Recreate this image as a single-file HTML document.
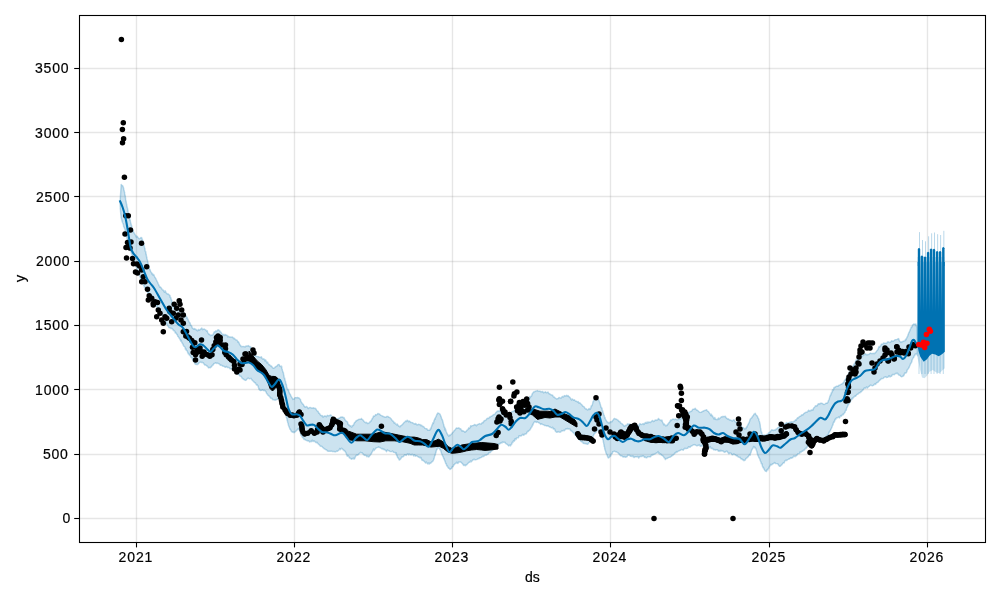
<!DOCTYPE html>
<html><head><meta charset="utf-8"><style>
html,body{margin:0;padding:0;background:#fff;width:1000px;height:600px;overflow:hidden}
svg{display:block;will-change:transform}
text{font-family:"Liberation Sans",sans-serif}
</style></head><body>
<svg width="1000" height="600" viewBox="0 0 1000 600">
<rect width="1000" height="600" fill="#fff"/>
<g stroke="#808080" stroke-opacity="0.2" stroke-width="1.39"><line x1="80" x2="985" y1="518.50" y2="518.50"/><line x1="80" x2="985" y1="454.50" y2="454.50"/><line x1="80" x2="985" y1="389.50" y2="389.50"/><line x1="80" x2="985" y1="325.50" y2="325.50"/><line x1="80" x2="985" y1="261.50" y2="261.50"/><line x1="80" x2="985" y1="196.50" y2="196.50"/><line x1="80" x2="985" y1="132.50" y2="132.50"/><line x1="80" x2="985" y1="68.50" y2="68.50"/><line x1="136.5" x2="136.5" y1="15.5" y2="542"/><line x1="294.5" x2="294.5" y1="15.5" y2="542"/><line x1="452.5" x2="452.5" y1="15.5" y2="542"/><line x1="610.5" x2="610.5" y1="15.5" y2="542"/><line x1="769.5" x2="769.5" y1="15.5" y2="542"/><line x1="927.5" x2="927.5" y1="15.5" y2="542"/></g>
<polygon points="121.2,184.4 121.5,185.1 121.9,185.1 122.3,185.6 122.8,186.1 123.3,187.3 123.8,189.3 123.9,189.5 124.0,190.4 124.2,190.7 124.3,191.4 124.4,192.1 124.6,192.0 124.7,193.9 124.9,194.6 125.0,195.4 125.1,195.3 125.3,196.2 125.4,197.5 125.6,198.6 125.7,199.9 125.9,200.6 126.1,201.8 126.2,202.2 126.4,203.4 126.5,204.1 126.7,204.4 126.9,206.3 127.0,206.6 127.2,207.7 127.4,207.7 127.5,208.5 127.7,209.5 127.9,210.4 128.0,211.6 128.2,212.3 128.4,212.8 128.6,213.4 128.8,214.4 128.9,216.0 129.1,215.9 129.3,217.2 129.5,218.0 129.7,217.9 129.8,219.3 130.0,220.6 130.2,220.0 130.5,221.7 130.7,222.7 130.9,223.3 131.2,224.8 131.4,225.4 131.6,225.6 131.9,227.4 132.1,228.1 132.3,229.0 132.6,230.0 132.8,230.2 133.0,230.7 133.3,230.7 133.5,232.2 133.8,232.2 134.3,233.4 134.8,234.0 135.3,234.9 135.8,235.7 136.3,237.1 136.9,236.1 137.5,236.8 138.3,238.0 139.1,238.7 140.0,238.4 140.9,237.5 141.7,237.8 142.5,240.2 142.7,240.2 142.9,240.5 143.2,242.1 143.4,242.8 143.6,243.1 143.8,243.9 144.0,244.8 144.2,246.2 144.4,246.6 144.5,247.4 144.7,248.3 144.9,248.2 145.1,250.4 145.3,251.2 145.5,251.9 145.7,251.6 145.9,253.1 146.1,254.6 146.2,254.2 146.4,255.7 146.6,257.1 146.8,256.9 147.0,259.0 147.2,259.4 147.4,259.9 147.6,261.0 147.8,262.0 148.0,262.6 148.1,263.9 148.3,264.0 148.5,264.9 148.7,266.3 148.9,266.6 149.1,267.0 149.3,268.5 149.6,269.4 149.8,269.2 150.0,269.4 150.4,271.0 150.9,271.8 151.4,272.5 151.9,273.9 152.4,273.4 152.9,275.0 153.5,274.4 154.0,275.2 154.5,276.5 155.0,277.5 155.4,278.1 155.8,278.5 156.1,279.2 156.5,280.0 156.8,280.9 157.2,281.4 157.6,282.4 158.0,283.3 158.3,283.9 158.7,285.0 159.1,285.6 159.6,287.0 160.0,286.8 160.6,287.2 161.2,288.0 161.8,288.8 162.5,289.9 163.1,290.0 163.8,290.9 164.4,292.2 165.1,290.7 165.7,291.9 166.2,293.0 166.7,293.5 167.6,294.0 168.3,294.0 168.8,294.7 169.4,295.0 170.0,295.6 170.2,297.4 170.5,297.2 170.7,297.5 171.0,298.5 171.2,299.3 171.4,300.3 171.7,300.0 171.9,302.0 172.2,303.5 172.4,303.4 172.7,304.7 173.0,305.8 173.3,306.4 173.8,307.5 174.4,306.7 175.1,307.9 175.7,308.4 176.4,309.2 177.0,309.8 177.7,308.4 178.3,310.5 179.1,309.7 180.0,310.8 180.8,309.9 181.6,310.8 182.5,311.6 183.3,311.6 183.7,312.3 184.2,313.1 184.6,313.4 185.0,314.0 185.5,315.5 185.9,316.0 186.3,316.2 186.8,318.3 187.2,317.4 187.6,319.0 187.9,319.2 188.3,320.1 188.7,321.2 189.1,321.8 189.5,322.8 189.8,322.6 190.2,323.4 190.5,325.1 190.9,325.0 191.3,325.7 191.7,326.0 192.3,328.0 193.0,328.4 193.8,329.2 194.5,328.6 195.3,329.5 196.0,329.3 196.7,330.3 197.6,330.8 198.4,329.4 199.3,330.2 200.1,329.6 201.0,328.9 201.8,328.1 202.6,329.7 203.5,329.1 204.3,329.0 205.2,329.7 206.0,330.2 206.6,331.2 207.2,330.7 207.7,332.5 208.3,333.5 208.8,334.4 209.4,334.3 209.9,334.6 210.5,335.7 211.3,335.3 212.0,334.9 212.8,334.9 213.6,333.4 214.3,331.8 215.0,332.1 215.8,330.8 216.6,331.4 217.3,330.6 218.0,329.8 218.8,330.0 219.3,330.7 219.9,330.9 220.5,332.1 221.1,332.3 221.7,333.6 222.5,334.4 223.2,334.9 223.9,334.3 224.7,335.4 225.5,334.6 226.3,335.3 227.1,335.3 227.8,337.0 228.5,336.2 229.5,337.0 230.4,337.0 231.3,337.1 232.1,336.9 233.0,337.6 233.6,338.7 234.3,338.3 234.9,339.0 235.6,339.8 236.2,339.9 236.9,340.0 237.5,341.0 238.0,342.3 238.5,341.8 239.1,343.0 239.6,344.5 240.1,345.1 240.6,345.5 241.1,346.5 241.6,346.7 242.0,346.5 243.0,346.6 243.9,346.5 245.0,346.9 245.7,346.2 246.5,345.9 247.4,345.9 248.3,345.6 249.1,346.4 250.0,346.5 250.5,347.6 250.9,347.0 251.4,349.0 251.8,349.3 252.3,349.6 252.7,351.7 253.2,352.1 253.6,352.0 254.1,353.4 254.5,354.6 255.0,354.8 255.8,356.0 256.7,356.4 257.5,356.6 258.3,356.6 259.2,357.3 260.0,357.3 260.7,357.6 261.4,356.8 262.1,358.5 262.9,359.1 263.6,358.8 264.3,359.2 265.0,360.9 265.6,359.8 266.3,361.4 266.9,362.9 267.6,362.1 268.2,363.5 268.8,364.7 269.4,364.4 270.0,365.3 270.7,366.1 271.4,366.0 272.1,367.0 272.7,367.7 273.3,368.2 274.0,368.0 274.7,367.7 275.4,366.8 276.1,366.5 276.7,366.3 277.4,365.4 278.0,364.6 279.1,364.5 280.1,366.3 281.0,366.5 281.3,366.9 281.6,366.1 281.9,368.4 282.2,369.2 282.5,370.8 282.7,371.2 283.0,372.0 283.2,372.9 283.4,372.6 283.6,374.7 283.8,375.1 283.9,375.4 284.1,377.2 284.3,378.2 284.5,377.6 284.8,378.8 285.0,380.1 285.2,380.8 285.4,381.3 285.6,381.8 285.8,383.9 286.0,384.2 286.2,384.0 286.4,384.7 286.7,386.9 286.9,387.4 287.2,388.5 287.4,388.9 287.7,388.9 288.0,390.1 288.4,389.8 288.8,391.3 289.2,392.5 289.6,393.7 290.1,394.0 290.6,395.1 291.0,396.2 291.5,396.9 291.9,397.8 292.3,398.2 292.7,398.5 293.0,399.4 294.1,399.1 295.0,397.6 295.7,397.6 296.5,397.7 297.4,397.5 298.2,397.7 299.0,398.0 299.5,398.5 299.9,399.0 300.4,399.3 300.8,400.9 301.2,402.0 301.6,402.5 302.0,402.9 302.5,404.0 302.9,404.1 303.4,404.4 303.9,406.0 304.4,406.1 305.0,407.3 305.7,406.9 306.5,406.4 307.4,407.3 308.3,408.6 309.1,407.8 310.0,407.4 310.8,407.7 311.7,408.1 312.6,408.0 313.4,407.7 314.2,408.4 315.0,408.3 315.5,408.4 316.1,409.2 316.6,410.3 317.1,410.7 317.5,411.5 318.0,411.3 318.5,412.4 319.0,413.3 319.6,413.5 320.2,414.8 320.8,415.1 321.4,415.8 322.2,415.6 323.0,417.1 323.7,416.6 324.5,415.9 325.4,415.9 326.3,416.8 327.3,415.3 328.2,415.7 329.1,415.7 330.0,415.3 330.8,415.0 331.5,416.0 332.3,416.5 333.1,417.3 333.8,417.6 334.6,417.8 335.3,418.6 336.0,418.8 336.7,418.8 337.7,418.7 338.6,418.3 339.5,418.3 340.4,417.1 341.2,417.0 342.0,417.3 342.7,416.9 343.4,417.8 344.0,417.6 344.6,418.9 345.3,420.2 346.0,421.0 346.5,421.2 347.0,421.8 347.5,422.0 348.0,424.3 348.6,424.5 349.1,425.5 349.7,425.3 350.2,426.1 350.8,425.8 351.3,427.1 351.8,427.0 352.4,425.4 353.0,425.6 353.5,425.3 354.1,423.4 354.6,422.6 355.2,422.1 355.7,421.6 356.2,420.6 356.7,420.7 357.6,420.1 358.4,419.6 359.2,419.2 359.9,419.4 360.7,419.2 361.4,418.4 362.0,419.3 362.7,419.7 363.4,420.4 364.0,421.5 364.7,422.0 365.5,422.7 366.2,422.3 367.0,422.9 367.8,423.6 368.7,423.2 369.2,422.8 369.7,422.4 370.2,421.4 370.8,421.4 371.3,420.4 371.9,419.4 372.4,418.3 373.0,417.8 373.5,416.0 374.0,416.3 374.8,416.0 375.6,414.6 376.4,414.9 377.2,414.4 377.9,413.5 378.7,413.9 379.5,414.0 380.2,414.8 381.0,415.4 381.7,415.7 382.5,415.9 383.3,416.6 384.2,416.8 385.0,417.2 386.0,417.0 386.9,416.5 387.8,416.4 388.7,417.1 389.4,417.4 390.0,417.7 390.7,418.7 391.4,419.2 392.0,420.2 392.7,421.0 393.3,421.2 394.0,423.0 394.7,422.4 395.3,423.7 396.0,424.0 396.6,425.0 397.3,424.0 398.0,425.2 398.6,426.0 399.3,426.3 400.0,426.9 400.7,425.6 401.4,425.5 402.1,424.7 402.8,424.1 403.5,423.2 404.1,422.4 404.7,422.2 405.6,420.9 406.4,421.5 407.1,420.2 408.0,420.8 408.6,421.8 409.3,421.1 410.1,421.6 410.8,422.6 411.6,422.5 412.5,422.6 413.3,423.4 414.1,423.8 414.9,424.0 415.8,423.5 416.6,424.7 417.5,424.8 418.4,424.3 419.2,424.6 420.0,424.5 420.8,425.7 421.7,425.2 422.4,426.4 423.2,426.4 423.9,426.8 424.6,427.9 425.3,428.6 426.2,428.6 427.0,429.0 427.8,430.3 428.5,430.2 429.3,430.1 429.7,430.3 430.1,429.7 430.5,428.3 430.9,428.9 431.3,427.1 431.6,426.6 432.0,425.0 432.5,424.4 432.9,422.8 433.3,423.5 433.6,422.6 434.0,420.7 434.4,419.7 434.7,418.8 435.1,419.2 435.5,417.5 435.9,416.8 436.3,415.9 436.6,415.2 437.0,414.1 437.3,414.0 437.7,412.9 438.0,413.3 438.6,413.2 439.2,413.6 439.7,413.9 440.2,414.5 440.7,416.1 441.3,417.1 441.5,418.6 441.8,418.9 442.1,419.2 442.3,419.9 442.6,420.6 442.8,421.4 443.1,422.5 443.4,423.7 443.7,424.7 443.9,425.7 444.2,427.2 444.5,426.8 444.8,427.9 445.0,429.9 445.3,428.5 445.7,430.1 446.2,431.5 446.6,432.5 447.0,433.5 447.4,434.1 447.9,435.1 448.3,435.5 448.8,436.2 449.3,435.1 449.8,435.5 450.3,435.5 450.9,434.5 451.4,433.9 452.0,433.8 452.6,432.4 453.1,432.2 453.7,431.5 454.2,430.6 454.7,430.2 455.6,429.2 456.3,428.0 457.0,428.2 457.8,428.2 458.7,427.8 459.3,428.2 459.9,428.9 460.6,428.7 461.3,430.0 462.0,431.1 462.8,430.6 463.5,431.3 464.3,431.4 465.0,432.2 465.6,431.4 466.2,431.4 466.9,430.2 467.5,429.9 468.1,429.2 468.8,427.8 469.4,428.5 470.1,427.6 470.7,425.8 471.4,426.4 472.0,425.6 472.9,425.6 473.8,425.3 474.6,424.4 475.5,424.9 476.4,425.7 477.2,424.7 478.1,424.3 479.0,423.9 479.7,423.6 480.4,423.9 481.1,424.1 481.8,423.1 482.5,422.5 483.2,422.8 483.9,421.1 484.6,420.5 485.3,420.5 486.0,420.0 486.7,418.9 487.4,418.3 488.1,418.5 488.9,418.1 489.6,416.9 490.3,417.0 491.0,416.3 491.7,416.3 492.3,415.6 493.0,415.2 493.7,414.5 494.4,414.5 495.1,414.0 495.8,412.5 496.4,412.4 497.1,411.1 497.7,411.0 498.2,411.0 498.8,411.2 499.5,410.5 500.2,411.2 500.8,412.0 501.4,412.1 502.0,413.5 502.7,413.7 503.5,414.4 504.4,413.9 505.3,413.5 506.2,414.3 507.1,414.3 508.0,413.8 508.8,414.2 509.5,413.4 510.3,412.9 511.0,412.9 511.8,411.6 512.5,411.5 513.3,411.3 514.0,411.2 514.6,410.1 515.3,409.7 516.0,408.7 516.7,408.5 517.4,408.5 518.0,406.9 518.7,407.8 519.5,406.0 520.2,406.1 521.0,405.9 521.7,406.2 522.5,404.9 523.2,404.2 524.0,405.0 524.5,404.6 525.1,404.0 525.6,404.4 526.2,402.7 526.7,402.1 527.3,401.7 527.8,400.8 528.3,400.7 528.8,398.8 529.3,398.5 529.8,396.5 530.3,397.7 530.7,396.4 531.2,396.2 531.6,396.1 532.0,394.4 532.4,393.6 532.9,393.0 533.3,392.3 534.1,391.7 534.8,391.7 535.6,391.1 536.4,390.9 537.3,390.6 538.1,391.1 539.0,391.1 539.9,391.1 540.9,391.8 541.8,391.7 542.7,391.5 543.6,392.8 544.5,392.4 545.4,391.8 546.3,392.8 547.2,392.6 548.0,392.0 548.9,393.8 549.7,393.7 550.4,394.5 551.2,394.8 552.0,395.2 552.6,395.1 553.3,396.8 554.0,397.0 554.7,397.4 555.3,398.2 556.0,398.5 556.7,399.0 557.5,398.6 558.2,398.6 559.0,397.4 559.7,397.8 560.5,397.9 561.3,397.9 562.0,396.8 562.8,396.5 563.6,396.9 564.4,395.6 565.1,395.8 565.9,396.0 566.7,395.3 567.4,396.1 568.1,395.6 568.8,396.6 569.5,397.1 570.2,397.8 570.8,398.9 571.4,400.0 572.0,399.0 572.9,399.5 573.6,400.3 574.4,399.8 575.3,400.9 576.0,401.3 576.7,401.3 577.4,402.1 578.2,401.6 579.0,403.2 579.8,402.7 580.7,403.7 581.3,404.2 582.0,404.9 582.7,406.1 583.4,406.4 584.1,406.8 584.8,407.9 585.5,408.9 586.1,408.7 586.7,409.2 587.3,409.9 588.3,409.5 589.1,408.4 589.9,409.5 590.6,408.6 591.3,405.8 591.6,406.1 592.0,405.6 592.2,405.0 592.5,404.0 592.8,402.7 593.1,401.5 593.3,401.2 593.7,401.0 594.0,399.5 594.7,398.8 595.5,398.8 596.3,397.6 597.2,398.5 598.0,399.1 598.3,399.9 598.6,399.9 598.9,400.5 599.3,401.4 599.6,402.4 599.9,402.9 600.2,404.1 600.5,405.3 600.8,406.4 601.1,407.6 601.4,407.3 601.7,408.3 602.0,408.2 602.3,411.0 602.6,410.6 602.9,411.8 603.1,412.9 603.4,412.9 603.6,414.6 603.9,415.2 604.2,415.2 604.4,416.9 604.7,418.0 605.0,417.3 605.3,419.1 605.8,419.7 606.3,420.7 606.9,421.4 607.4,422.4 608.0,422.2 608.6,423.0 609.3,422.5 609.9,422.9 610.5,421.8 611.2,421.6 611.9,421.8 612.6,420.6 613.3,419.7 614.0,418.7 614.6,418.5 615.3,418.8 616.0,419.2 616.7,419.3 617.4,419.9 618.1,420.2 618.8,421.5 619.5,421.4 620.1,421.9 620.7,423.1 621.4,423.4 622.1,423.9 622.8,424.5 623.4,425.2 624.0,426.0 624.7,426.2 625.4,425.3 626.1,425.6 626.8,424.9 627.6,423.8 628.7,424.3 629.3,423.9 630.0,424.0 630.8,424.6 631.6,425.0 632.5,424.3 633.3,425.1 634.2,424.7 635.0,426.2 635.9,425.1 636.7,425.8 637.5,424.9 638.3,425.5 639.1,425.9 639.9,423.6 640.7,424.3 641.5,424.5 642.3,424.0 643.1,423.5 643.9,424.5 644.7,423.3 645.5,422.4 646.3,423.3 647.1,421.9 647.9,423.0 648.7,422.0 649.6,422.2 650.4,422.5 651.1,421.7 651.9,420.9 652.7,420.5 653.5,421.6 654.4,421.1 655.2,420.0 656.1,420.4 656.9,420.0 657.7,419.8 658.5,418.4 659.2,419.2 660.0,419.9 660.7,420.2 661.3,420.8 661.9,420.0 662.5,422.0 663.1,423.0 663.7,424.7 664.2,423.9 664.8,424.8 665.4,425.4 666.0,425.9 666.6,425.2 667.2,425.5 667.8,424.0 668.4,423.8 669.0,422.6 669.6,422.1 670.2,420.9 670.8,419.8 671.4,420.4 672.0,419.6 672.9,419.0 673.7,419.2 674.6,419.7 675.4,419.0 676.3,419.5 677.1,419.8 678.0,419.7 678.8,419.1 679.5,418.0 680.2,419.2 681.0,418.4 681.8,417.9 682.5,417.3 683.2,417.1 684.0,416.3 684.7,415.6 685.4,415.2 686.1,414.8 686.7,414.2 687.4,413.5 688.1,413.7 688.8,412.3 689.4,412.7 690.0,411.5 690.8,411.5 691.6,411.3 692.2,410.1 692.9,409.2 693.7,409.2 694.5,409.1 695.2,408.3 695.9,409.2 696.6,410.0 697.4,410.2 698.2,411.0 699.0,411.8 699.7,412.1 700.5,412.4 701.4,412.2 702.2,411.6 703.1,411.3 703.9,410.7 704.8,410.4 705.6,410.3 706.5,409.7 707.1,410.7 707.7,411.3 708.3,411.4 709.0,412.5 709.6,413.5 710.2,413.9 710.8,415.6 711.4,414.2 712.0,415.9 712.5,415.7 713.3,417.7 714.1,419.1 714.8,417.4 715.4,419.1 716.2,419.6 717.0,419.4 717.7,419.6 718.4,418.0 719.1,418.9 719.9,418.2 720.7,417.5 721.5,416.7 722.2,416.9 723.0,416.3 723.8,416.7 724.5,416.6 725.2,416.2 726.0,417.7 726.8,418.3 727.5,419.1 728.2,418.8 729.0,419.5 729.9,420.0 730.7,420.0 731.6,420.6 732.4,421.1 733.3,420.0 734.1,419.8 735.0,421.4 735.7,422.1 736.4,422.2 737.1,422.7 737.7,422.6 738.4,423.1 739.1,424.4 739.8,424.1 740.4,424.2 741.0,425.1 741.8,427.4 742.6,428.0 743.2,427.6 743.9,428.2 744.7,428.9 745.5,428.2 745.9,428.8 746.2,427.7 746.6,426.7 747.1,427.1 747.5,425.5 747.9,425.0 748.3,424.1 748.8,423.1 749.2,422.5 749.6,421.2 750.0,419.8 750.4,418.9 750.8,418.6 751.2,418.2 751.5,418.0 752.2,416.9 752.9,416.1 753.5,415.1 754.0,414.2 754.6,413.9 755.2,413.2 755.7,414.3 756.2,415.0 756.7,415.6 757.1,416.0 757.6,416.8 758.1,418.2 758.6,418.8 759.0,420.3 759.2,420.9 759.4,421.4 759.6,422.7 759.7,422.6 759.9,423.6 760.1,424.3 760.2,425.2 760.4,427.2 760.5,428.3 760.7,428.4 760.9,429.6 761.0,430.7 761.2,431.3 761.4,432.3 761.6,431.8 761.8,432.7 762.0,433.7 762.8,435.3 763.7,435.3 764.6,435.0 765.6,435.1 766.5,434.7 767.1,434.3 767.8,434.7 768.4,433.1 769.0,432.5 769.7,432.7 770.3,431.6 771.0,430.7 771.8,429.8 772.7,430.1 773.6,430.5 774.4,429.9 775.3,430.0 776.2,429.0 776.9,428.8 777.5,427.9 778.1,427.6 778.8,427.3 779.5,425.5 780.1,425.5 780.8,425.0 781.5,424.2 782.3,424.0 783.2,424.2 784.0,424.5 784.9,423.8 785.8,423.5 786.6,422.5 787.5,423.9 788.4,422.8 789.2,422.6 790.1,422.0 790.9,422.3 791.8,421.7 792.6,421.9 793.5,421.7 794.2,421.1 794.8,420.8 795.5,419.8 796.2,420.3 796.8,418.9 797.5,417.8 798.2,418.0 798.8,417.2 799.5,416.5 800.2,416.3 800.8,416.1 801.5,414.9 802.2,414.8 802.8,415.0 803.5,414.1 804.2,413.3 804.8,413.0 805.5,412.4 806.3,412.1 807.0,412.1 807.8,411.5 808.6,410.2 809.4,411.1 810.1,410.4 810.8,410.8 811.5,409.9 812.2,409.8 812.9,410.2 813.5,408.2 814.2,407.6 814.8,406.9 815.4,405.9 816.0,405.7 816.8,406.1 817.5,405.0 818.2,403.9 819.0,403.6 819.8,404.1 820.5,403.2 821.4,403.2 822.4,403.5 823.3,404.1 824.2,404.5 825.0,404.0 825.9,403.3 826.6,403.1 827.3,403.2 828.0,402.1 828.3,400.8 828.6,400.5 828.9,399.7 829.2,398.8 829.5,397.8 829.8,396.6 830.1,396.1 830.4,394.8 830.7,395.3 831.0,394.2 831.4,392.6 831.8,392.9 832.1,391.9 832.5,389.8 832.9,390.7 833.2,389.5 833.6,389.5 834.0,387.4 834.8,387.4 835.5,386.8 836.2,386.4 837.0,386.1 838.0,386.3 839.0,385.1 840.0,384.9 840.8,384.4 841.6,384.2 842.3,383.4 843.0,383.2 843.5,382.5 843.9,381.8 844.4,380.7 845.0,379.8 845.3,379.9 845.7,379.2 846.1,378.2 846.5,377.3 846.9,377.4 847.3,375.7 847.7,375.5 848.2,375.0 848.6,373.6 849.0,373.4 849.4,371.8 849.8,372.0 850.2,371.0 850.6,369.4 851.0,369.7 851.4,368.3 851.8,368.6 852.2,367.0 852.6,366.6 853.0,366.1 853.4,365.1 853.9,364.7 854.3,363.6 854.7,363.5 855.1,362.5 855.5,362.0 856.0,360.0 856.5,361.1 857.0,360.0 857.6,358.6 858.2,358.8 858.9,358.3 859.6,358.0 860.3,356.4 861.0,357.0 861.7,355.8 862.4,356.5 863.0,354.9 863.9,354.9 864.7,354.2 865.4,353.7 866.2,354.7 867.1,354.5 868.0,354.7 868.8,354.3 869.7,353.6 870.6,353.1 871.5,353.6 872.4,353.5 873.3,353.3 874.2,353.7 875.0,353.1 875.6,352.4 876.1,352.0 876.6,351.1 877.1,350.5 877.6,350.0 878.1,349.2 878.6,347.7 879.0,346.6 879.5,347.2 880.0,346.1 880.7,345.8 881.4,344.1 882.1,344.2 882.9,343.9 883.6,342.9 884.3,343.1 885.0,343.3 885.8,343.2 886.7,343.3 887.5,342.0 888.3,341.7 889.2,342.4 890.0,342.4 890.9,341.8 891.7,340.8 892.6,341.4 893.5,341.0 894.3,340.5 895.0,339.8 896.1,339.6 897.1,339.4 898.0,338.7 898.6,338.6 899.2,340.3 899.7,341.2 900.3,341.7 901.0,342.4 901.8,341.7 902.6,341.7 903.4,341.1 904.2,340.9 905.0,340.7 905.5,339.3 906.0,339.7 906.4,338.8 906.8,337.7 907.2,336.8 907.6,336.5 908.0,334.9 908.4,334.1 908.7,332.9 909.0,332.7 909.3,332.3 909.6,331.1 910.0,330.2 910.4,329.2 910.8,328.5 911.3,327.0 911.7,327.3 912.2,326.0 912.6,325.0 913.0,324.7 913.8,323.9 914.6,324.3 915.3,324.5 915.8,323.9 916.3,325.9 916.7,326.8 917.0,327.0 917.5,355.7 917.3,354.5 917.1,353.8 916.5,353.5 916.1,354.2 915.7,354.3 915.2,354.1 914.7,355.8 914.2,355.8 913.6,357.9 913.0,358.0 912.7,358.8 912.4,359.3 912.1,360.2 911.8,361.8 911.5,362.3 911.1,363.0 910.8,363.7 910.5,363.7 910.1,365.0 909.8,365.8 909.4,366.4 909.0,367.9 908.7,368.0 908.3,368.7 907.8,369.3 907.3,369.7 906.8,371.7 906.3,372.8 905.7,373.0 905.2,373.2 904.7,373.1 904.1,374.9 903.6,375.9 903.0,375.9 902.5,376.4 901.7,376.8 900.8,376.4 900.0,375.2 899.2,375.3 898.4,374.6 897.5,373.2 896.7,373.5 895.9,373.2 895.0,374.0 894.2,374.7 893.3,374.4 892.5,374.4 891.6,376.3 890.8,376.2 890.0,376.9 889.1,375.7 888.3,376.9 887.4,377.4 886.6,377.5 885.8,376.7 885.0,377.1 884.2,377.2 883.5,378.1 882.8,378.6 882.1,378.6 881.4,378.4 880.7,379.8 880.0,379.8 879.4,380.7 878.8,381.1 878.1,382.2 877.5,382.6 876.9,382.4 876.2,383.3 875.6,384.4 875.0,383.8 874.2,384.6 873.3,385.4 872.5,385.7 871.7,385.6 870.8,385.1 870.0,385.4 869.1,386.4 868.3,386.8 867.4,388.1 866.5,386.9 865.7,388.1 865.0,388.3 864.3,387.8 863.7,388.8 863.2,389.8 862.6,390.2 862.0,390.9 861.4,391.7 860.7,391.7 860.0,392.8 859.3,392.8 858.6,393.3 858.0,394.2 857.2,394.3 856.4,395.1 855.7,396.2 855.0,396.0 854.4,396.4 853.8,397.3 853.3,397.4 852.7,398.7 852.0,398.4 851.6,399.8 851.2,399.9 850.7,400.4 850.2,402.2 849.8,401.7 849.3,403.6 848.8,403.8 848.4,404.9 848.0,404.6 847.6,406.3 847.3,407.2 846.9,407.4 846.6,408.2 846.3,410.2 846.0,410.0 845.6,410.5 845.3,411.1 845.0,412.2 844.4,413.0 843.8,413.6 843.3,414.8 842.7,414.3 842.0,415.2 841.4,416.2 840.7,415.6 840.0,417.0 839.3,417.9 838.6,416.9 838.0,417.5 837.2,418.0 836.4,417.9 835.7,419.4 835.0,419.2 834.7,420.8 834.3,421.9 834.0,421.3 833.7,422.7 833.3,422.8 833.0,424.9 832.7,425.1 832.3,426.1 832.0,427.0 831.6,428.0 831.3,428.4 830.9,429.4 830.6,429.9 830.2,430.9 829.8,431.1 829.4,432.3 829.0,432.1 828.6,433.5 828.1,435.3 827.7,435.1 827.2,435.2 826.7,436.5 826.2,436.6 825.6,436.8 825.0,437.7 824.2,438.7 823.4,438.9 822.6,438.8 821.7,438.6 820.8,438.7 819.9,439.9 819.0,439.6 818.1,439.3 817.2,438.9 816.3,439.4 815.5,441.3 814.6,439.8 813.8,440.6 813.0,441.1 812.3,441.4 811.6,441.9 811.0,442.1 810.3,442.9 809.7,444.9 809.1,444.5 808.5,445.9 807.9,445.4 807.3,446.7 806.7,447.5 806.0,448.5 805.4,448.2 804.7,449.6 804.0,450.2 803.4,450.2 802.8,451.2 802.1,451.2 801.4,451.7 800.7,452.6 800.1,451.9 799.4,453.6 798.7,453.6 798.0,453.8 797.2,454.8 796.5,455.7 795.8,455.6 795.0,456.7 794.2,455.9 793.5,456.2 792.8,457.8 792.0,457.7 791.2,458.3 790.5,457.8 789.8,458.9 789.0,458.9 788.2,459.4 787.5,459.6 786.8,460.5 786.0,460.2 785.4,460.6 784.8,461.0 784.1,462.9 783.5,462.8 782.8,463.4 782.2,464.2 781.6,465.1 781.0,465.3 780.5,466.1 780.0,466.2 779.3,466.2 778.7,465.3 778.3,464.8 777.7,463.7 777.0,463.6 776.3,463.6 775.5,463.6 774.6,462.6 773.6,463.6 772.7,463.8 771.8,464.9 771.0,464.3 770.4,465.2 769.9,466.1 769.3,466.8 768.8,468.3 768.3,468.5 767.8,469.9 767.4,469.5 766.9,469.9 766.5,471.5 765.8,471.3 765.3,471.0 764.7,470.2 764.2,469.4 763.5,467.5 763.2,467.9 762.9,466.7 762.6,466.7 762.3,465.6 762.0,463.9 761.7,463.4 761.3,463.7 761.0,462.3 760.7,461.4 760.3,460.8 760.0,459.7 759.7,458.8 759.3,458.3 759.0,457.6 758.7,457.4 758.4,455.9 758.0,455.8 757.7,454.8 757.4,453.8 757.1,452.6 756.8,451.2 756.4,450.3 756.1,449.4 755.8,448.4 755.5,448.1 755.1,447.3 754.8,447.9 754.5,447.2 754.1,446.8 753.6,446.4 753.2,447.8 752.8,448.4 752.3,449.0 751.9,449.9 751.5,450.4 751.0,452.6 750.5,453.2 750.0,455.2 749.5,454.7 748.9,455.4 748.3,456.8 747.7,457.0 747.1,457.8 746.5,458.2 745.8,458.7 745.2,460.1 744.6,460.3 744.0,460.8 743.2,459.8 742.5,459.7 741.8,458.8 741.0,459.0 740.2,457.3 739.5,457.5 738.8,457.2 738.0,456.8 737.1,455.4 736.3,455.9 735.4,454.8 734.6,454.5 733.7,454.0 732.9,454.8 732.0,454.7 731.2,453.4 730.5,453.1 729.8,452.9 729.0,453.9 728.2,452.9 727.5,451.9 726.8,451.1 726.0,451.4 725.1,452.1 724.3,452.2 723.4,451.2 722.6,451.0 721.7,451.0 720.9,450.3 720.0,451.4 719.1,450.4 718.3,451.2 717.4,449.7 716.6,449.7 715.7,450.2 714.9,449.5 714.0,449.9 713.2,449.2 712.5,448.3 711.8,448.6 711.0,448.3 710.2,446.6 709.5,447.9 708.8,447.0 708.0,446.8 707.1,445.5 706.3,446.0 705.4,446.2 704.6,446.9 703.7,445.9 702.9,446.2 702.0,445.6 701.1,446.2 700.3,446.2 699.4,445.0 698.6,445.2 697.7,445.5 696.9,445.8 696.0,445.3 695.1,444.9 694.3,444.6 693.4,444.9 692.6,445.3 691.7,445.9 690.9,446.2 690.0,447.3 689.2,446.9 688.5,446.7 687.8,448.3 687.0,448.4 686.2,448.5 685.5,448.5 684.8,448.3 684.0,449.0 683.1,450.2 682.3,449.6 681.4,449.5 680.6,450.3 679.7,450.5 678.9,450.9 678.0,451.3 677.3,452.0 676.7,451.4 676.0,452.8 675.3,452.4 674.7,453.8 674.0,454.1 673.3,454.7 672.7,455.5 672.0,455.5 671.3,456.5 670.5,457.0 669.8,457.2 669.1,457.4 668.4,457.7 667.6,458.2 666.8,458.5 666.0,458.5 665.4,459.6 664.8,458.2 664.1,457.8 663.5,456.5 662.8,455.9 662.1,455.4 661.4,455.0 660.7,453.8 660.0,454.4 659.4,452.9 658.7,453.4 658.0,451.6 657.3,452.7 656.5,453.0 655.8,453.3 655.1,453.9 654.4,454.2 653.6,454.7 652.9,454.3 652.2,455.3 651.5,455.0 650.7,456.7 650.0,456.8 649.2,456.8 648.4,456.6 647.6,456.7 646.8,457.8 646.0,457.7 645.2,456.9 644.4,457.4 643.6,456.0 642.8,455.8 642.0,456.5 641.2,456.3 640.4,456.5 639.5,456.8 638.7,458.1 637.8,456.4 637.0,456.8 636.2,456.9 635.4,456.7 634.7,457.1 634.0,457.5 633.0,456.0 632.0,456.5 631.2,456.1 630.4,456.3 629.6,455.3 628.7,455.2 627.8,455.1 627.0,456.8 626.1,457.0 625.2,457.3 624.3,456.4 623.3,457.1 622.7,456.7 622.0,455.9 621.3,455.6 620.6,455.7 619.9,455.0 619.2,454.0 618.5,453.6 617.9,452.6 617.3,452.4 616.7,452.0 615.7,451.8 614.9,451.3 614.2,451.3 613.5,451.5 612.7,451.7 612.2,453.5 611.7,453.5 611.2,454.3 610.7,456.1 610.2,456.6 609.7,456.0 609.2,457.5 608.7,457.7 608.3,458.0 607.9,457.3 607.5,456.5 607.1,454.9 606.7,454.3 606.4,453.9 606.0,453.0 605.6,451.3 605.3,450.5 605.1,449.9 604.9,449.4 604.7,448.7 604.6,447.7 604.4,446.4 604.2,446.7 604.1,445.9 603.9,444.3 603.8,443.9 603.6,442.8 603.4,442.1 603.3,441.1 603.1,439.8 602.9,439.7 602.7,439.2 602.4,437.3 602.1,437.6 601.8,436.7 601.4,435.6 601.1,434.8 600.7,433.4 600.4,432.1 600.0,431.4 599.7,430.7 599.3,430.8 598.5,430.2 597.7,430.5 596.9,429.6 596.1,432.2 595.3,433.0 594.9,432.5 594.6,433.4 594.2,434.0 593.8,434.7 593.5,435.3 593.1,436.2 592.8,436.7 592.4,438.0 592.0,438.7 591.7,439.5 591.3,439.6 590.7,440.8 590.2,441.6 589.6,442.5 589.0,442.4 588.4,443.5 587.9,444.2 587.3,444.3 586.5,443.9 585.7,443.7 584.9,443.5 584.1,443.5 583.3,443.4 582.7,442.3 582.1,441.7 581.4,441.7 580.8,441.2 580.1,440.2 579.4,439.6 578.7,439.3 578.2,439.1 577.7,437.6 577.1,437.0 576.6,437.0 576.0,435.5 575.5,435.4 574.9,434.7 574.4,433.9 573.8,432.8 573.3,432.7 572.6,431.9 572.0,431.5 571.3,430.4 570.6,430.7 570.0,428.9 569.3,429.1 568.7,428.9 568.0,429.1 567.2,428.4 566.5,429.1 565.7,428.9 565.0,429.9 564.2,430.8 563.5,430.2 562.7,430.9 561.8,430.6 560.9,431.8 560.0,432.3 559.1,432.1 558.2,431.6 557.3,432.2 556.6,432.2 556.0,431.7 555.3,430.9 554.6,429.0 554.0,428.8 553.3,429.0 552.7,427.2 552.0,427.8 551.1,427.7 550.3,427.0 549.4,427.0 548.6,426.3 547.7,425.7 546.7,426.0 546.0,425.7 545.3,425.4 544.5,425.5 543.7,424.8 543.0,424.6 542.2,424.3 541.4,423.8 540.7,424.4 540.0,423.5 539.0,422.9 538.1,422.4 537.2,421.8 536.3,422.4 535.5,421.8 534.7,421.5 534.2,422.1 533.8,422.9 533.3,423.5 532.9,425.0 532.5,424.9 532.1,426.5 531.7,427.2 531.2,427.4 530.7,428.7 530.2,429.3 529.6,430.3 529.0,430.5 528.4,431.5 527.8,431.2 527.2,432.0 526.5,433.4 525.9,434.0 525.3,434.0 524.5,434.2 523.7,435.3 522.9,434.2 522.1,435.0 521.3,435.9 520.5,436.1 519.8,435.7 519.1,435.8 518.5,437.7 517.8,437.6 517.2,437.6 516.6,438.5 515.9,439.5 515.2,438.5 514.7,440.7 514.1,441.2 513.5,440.6 512.9,442.6 512.3,442.2 511.7,444.3 511.1,444.6 510.5,445.9 509.9,445.0 509.3,445.5 508.6,445.9 507.8,444.9 507.1,444.3 506.3,443.8 505.6,443.3 504.9,442.2 504.2,442.4 503.5,442.2 502.7,442.0 501.9,443.0 501.2,442.4 500.4,443.6 499.6,443.4 498.8,444.6 498.3,443.9 497.7,445.4 497.2,445.8 496.6,446.2 496.0,446.8 495.5,447.6 494.9,448.1 494.3,448.1 493.6,449.4 493.0,450.0 492.3,450.5 491.7,450.7 491.0,451.6 490.3,452.5 489.6,452.5 488.9,452.9 488.1,454.2 487.4,454.4 486.7,454.8 486.0,455.3 485.2,455.1 484.4,455.6 483.7,456.6 482.9,456.2 482.1,456.8 481.3,457.4 480.6,457.8 479.8,457.8 479.0,458.7 478.2,458.5 477.4,459.2 476.7,459.6 475.9,459.6 475.1,459.9 474.3,459.3 473.6,459.4 472.8,460.1 472.0,460.9 471.3,461.8 470.5,461.0 469.8,462.3 469.0,462.3 468.3,463.0 467.6,463.7 466.9,464.7 466.2,464.9 465.6,465.7 465.0,464.9 464.1,465.6 463.4,465.1 462.7,463.9 462.1,463.4 461.3,462.4 460.5,462.0 459.7,462.1 458.8,461.9 457.8,463.5 456.9,462.1 456.0,463.4 455.5,463.2 454.9,463.8 454.4,464.7 453.8,464.8 453.3,466.3 452.7,466.9 452.2,466.7 451.7,468.3 451.2,468.7 450.7,468.9 450.0,469.5 449.3,468.3 448.6,468.2 448.0,467.6 447.4,465.9 446.7,465.8 446.4,464.1 446.0,463.5 445.7,463.6 445.4,462.1 445.1,461.7 444.7,460.2 444.4,460.1 444.1,458.7 443.7,458.5 443.4,456.9 443.1,457.0 442.7,455.9 442.3,455.2 441.9,454.2 441.5,453.2 441.0,451.6 440.6,450.0 440.2,450.2 439.7,449.0 439.3,448.5 438.9,448.4 438.4,447.1 438.0,447.7 437.7,447.9 437.4,448.1 437.1,449.3 436.8,449.7 436.5,450.2 436.2,451.0 435.9,452.7 435.6,453.0 435.3,454.5 435.1,455.4 434.8,455.3 434.5,456.6 434.2,458.0 433.9,458.9 433.6,459.8 433.3,460.4 432.6,461.5 432.0,461.7 431.3,462.4 430.7,463.3 430.0,463.1 429.4,464.0 428.7,463.0 427.9,464.0 427.2,463.3 426.4,462.1 425.6,462.9 424.8,462.0 424.0,461.3 423.4,460.4 422.8,460.2 422.1,460.5 421.5,458.9 420.8,457.2 420.1,457.9 419.4,457.2 418.7,457.2 417.9,456.7 417.1,456.1 416.3,455.7 415.5,456.2 414.6,454.7 413.8,456.0 412.9,454.6 412.0,454.2 411.2,455.0 410.4,454.8 409.5,454.1 408.7,454.9 407.8,453.8 407.0,454.3 406.2,455.4 405.4,455.0 404.7,454.7 403.9,455.9 403.2,456.7 402.5,457.0 401.8,456.9 401.1,458.3 400.5,459.2 399.9,459.6 399.3,460.1 398.8,458.9 398.3,458.2 397.9,457.7 397.5,457.4 397.1,455.4 396.7,455.5 396.2,452.8 395.8,453.6 395.3,452.4 394.5,452.4 393.6,452.2 392.7,451.1 391.8,451.5 390.9,451.6 390.0,451.6 389.1,450.7 388.2,450.5 387.4,449.9 386.5,451.7 385.6,450.2 384.7,449.9 383.9,449.0 383.2,449.6 382.4,448.4 381.6,448.8 380.8,448.1 380.1,447.4 379.3,447.6 378.5,446.9 377.8,447.4 377.0,447.6 376.3,447.7 375.5,448.8 374.8,449.3 374.0,450.6 373.5,449.0 372.9,450.9 372.4,451.6 371.8,452.6 371.3,453.8 370.7,454.6 370.2,455.2 369.7,455.6 369.2,456.6 368.7,456.9 367.8,456.1 367.0,456.7 366.2,455.7 365.5,455.3 364.7,455.4 363.9,454.8 363.1,454.1 362.3,453.0 361.5,452.8 360.7,452.3 359.9,453.0 359.1,453.6 358.3,454.7 357.5,455.2 356.7,454.9 356.1,455.7 355.6,456.2 355.1,457.5 354.5,459.0 353.9,459.0 353.3,458.1 352.7,458.7 352.1,458.6 351.4,459.2 350.8,458.5 350.1,458.1 349.4,458.1 348.7,456.3 348.0,455.6 347.3,456.2 346.8,454.9 346.2,453.6 345.7,452.3 345.2,451.7 344.6,450.5 344.1,450.8 343.6,450.1 343.1,449.9 342.5,448.9 342.0,448.4 341.3,448.3 340.5,449.7 339.8,448.5 339.1,450.0 338.3,450.5 337.5,451.3 336.7,451.1 335.9,451.7 335.1,451.9 334.2,451.5 333.3,451.4 332.4,451.5 331.6,451.1 330.8,451.3 330.0,451.2 329.1,451.2 328.2,451.3 327.3,450.9 326.5,449.7 325.8,449.7 325.0,449.1 324.3,448.9 323.6,448.1 322.9,447.7 322.3,446.8 321.7,446.2 321.0,446.4 320.3,446.1 319.7,445.3 319.0,444.6 318.3,444.0 317.7,443.2 317.0,442.2 316.2,442.8 315.4,442.1 314.7,441.4 313.9,440.8 313.0,441.6 312.2,440.1 311.4,441.7 310.5,441.3 309.6,442.1 308.8,440.8 308.0,441.0 307.1,440.5 306.3,440.5 305.5,439.9 304.7,439.2 304.0,439.5 303.4,438.1 302.9,437.7 302.4,437.5 301.9,436.3 301.4,435.6 301.0,435.2 300.7,434.0 300.4,432.6 300.1,432.1 299.9,431.0 299.6,431.0 299.3,429.0 299.0,429.4 298.3,428.6 297.6,429.4 296.8,430.2 296.0,431.1 295.0,431.9 294.0,432.8 293.0,431.7 292.4,432.3 291.8,431.7 291.1,431.0 290.5,429.5 290.0,429.4 289.7,428.3 289.4,427.7 289.1,426.6 288.8,426.2 288.5,425.4 288.3,424.5 288.0,422.9 287.8,422.7 287.6,422.2 287.4,420.4 287.2,420.7 287.0,418.6 286.9,418.7 286.7,417.9 286.4,417.4 286.2,416.0 286.0,414.8 285.8,413.9 285.6,412.9 285.4,412.9 285.2,411.6 285.0,410.6 284.7,410.2 284.5,408.8 284.3,408.1 284.0,407.2 283.8,407.3 283.5,406.4 283.3,404.9 283.0,403.4 282.7,403.2 282.4,402.1 282.0,401.3 281.7,400.4 281.3,399.2 281.0,398.9 280.7,398.2 280.3,397.4 280.0,396.8 279.4,396.7 278.7,397.9 278.1,398.1 277.4,399.4 276.7,399.7 276.0,399.5 275.2,400.3 274.3,399.9 273.5,399.6 272.7,399.7 272.0,398.3 271.3,398.5 270.7,398.2 270.2,397.8 269.6,396.3 269.0,396.3 268.6,395.5 268.1,395.4 267.6,394.6 267.1,393.6 266.6,393.6 266.1,392.0 265.6,391.3 265.0,390.8 264.2,390.2 263.3,390.5 262.4,389.7 261.6,390.4 260.7,390.5 260.0,390.4 259.5,389.3 259.0,389.5 258.6,387.8 258.3,387.2 257.9,385.6 257.5,385.4 257.0,384.6 256.5,385.0 255.9,384.0 255.4,382.7 254.8,382.8 254.2,382.3 253.6,381.4 253.0,381.0 252.3,380.3 251.7,379.5 251.0,378.3 250.3,378.6 249.7,378.8 249.0,378.6 248.2,378.1 247.5,378.4 246.7,379.4 245.9,380.4 245.0,380.2 244.4,379.5 243.8,379.5 243.1,378.7 242.4,378.5 241.7,377.4 241.0,376.2 240.3,376.2 239.6,375.9 239.0,374.5 238.3,374.3 237.6,374.0 237.0,372.8 236.3,372.0 235.7,372.5 235.1,371.4 234.5,371.0 233.8,369.6 233.0,370.3 232.3,368.5 231.6,368.6 230.8,368.9 230.0,368.8 229.2,367.6 228.3,367.4 227.4,367.6 226.5,366.4 225.6,367.3 224.8,367.0 224.0,366.2 223.2,366.3 222.5,366.0 221.8,365.4 221.0,365.1 220.2,365.2 219.4,363.9 218.6,363.8 217.7,363.1 216.8,363.5 215.9,362.7 215.0,363.2 214.3,363.4 213.7,363.9 213.0,365.3 212.3,365.3 211.6,366.7 211.0,367.1 210.3,367.8 209.8,367.4 208.9,367.9 208.2,367.5 207.6,366.3 206.9,366.0 206.0,365.2 205.3,364.9 204.6,365.0 203.8,363.6 203.0,362.7 202.2,362.3 201.4,362.5 200.7,362.1 200.0,362.3 199.1,362.7 198.4,364.0 197.7,364.1 197.0,364.7 196.2,364.2 195.8,364.4 195.3,364.2 194.8,363.5 194.2,361.3 193.7,361.6 193.2,361.0 192.6,359.9 192.2,358.0 191.7,357.9 191.2,357.5 190.7,356.8 190.2,355.7 189.8,355.1 189.4,355.3 188.9,353.6 188.3,353.9 187.9,352.7 187.6,352.3 187.2,350.9 186.8,350.5 186.3,350.4 185.9,348.7 185.5,349.5 185.0,347.3 184.6,346.6 184.2,346.4 183.7,345.9 183.3,345.3 182.9,344.1 182.5,343.5 182.1,342.8 181.6,341.9 181.2,340.3 180.8,341.2 180.4,340.2 180.0,339.4 179.6,338.4 179.1,338.1 178.7,337.3 178.3,336.7 177.8,336.4 177.3,334.5 176.8,334.6 176.3,333.3 175.8,332.9 175.3,333.0 174.8,331.2 174.3,331.1 173.8,330.3 173.3,330.4 172.6,329.0 171.8,328.2 171.1,328.7 170.3,328.0 169.6,327.7 168.9,327.8 168.3,326.3 167.9,326.0 167.5,325.5 167.1,325.0 166.8,323.8 166.5,323.7 166.2,323.4 165.8,321.5 165.4,321.6 165.0,319.1 164.6,320.0 164.3,318.6 163.9,318.1 163.5,317.2 163.0,316.4 162.6,315.4 162.2,315.1 161.7,315.1 161.3,314.3 160.9,313.0 160.4,312.2 160.0,311.4 159.6,310.5 159.2,311.1 158.8,309.9 158.3,309.0 157.9,308.0 157.5,307.1 157.1,307.4 156.7,306.4 156.2,305.0 155.8,305.1 155.4,303.5 155.0,303.6 154.6,302.2 154.2,301.7 153.8,301.4 153.3,300.7 152.9,300.2 152.5,298.7 152.1,299.0 151.7,298.2 151.2,297.0 150.8,296.5 150.4,295.3 150.0,294.9 149.5,293.7 149.0,293.7 148.5,293.1 148.0,293.0 147.5,292.3 147.0,291.6 146.5,290.5 146.0,289.8 145.5,289.0 145.0,288.4 144.7,286.8 144.3,287.4 144.0,285.7 143.7,285.5 143.4,285.0 143.1,284.0 142.7,284.2 142.4,282.7 142.1,282.6 141.8,281.6 141.4,280.1 141.1,279.6 140.7,279.1 140.4,277.5 140.0,276.7 139.7,275.8 139.5,275.4 139.2,274.5 138.9,274.0 138.6,273.6 138.4,273.1 138.1,271.8 137.8,271.0 137.5,270.5 137.2,269.2 136.9,268.1 136.6,268.2 136.3,266.6 136.0,266.6 135.7,264.9 135.4,265.4 135.1,263.3 134.8,263.4 134.5,262.9 134.3,261.1 134.0,261.4 133.8,259.6 133.5,258.4 133.2,258.7 132.9,257.8 132.6,256.6 132.3,254.8 132.0,255.1 131.8,254.2 131.5,253.4 131.2,252.7 131.0,251.2 130.7,251.0 130.4,251.2 130.2,250.3 129.9,248.7 129.7,247.8 129.5,247.5 129.2,247.0 129.0,246.1 128.8,244.5 128.5,244.3 128.3,243.5 128.1,243.2 127.9,242.3 127.7,241.2 127.5,240.7 127.3,239.2 127.1,239.2 126.9,237.6 126.7,237.1 126.5,236.5 126.3,234.9 126.1,234.2 126.0,233.0 125.8,233.1 125.6,232.2 125.4,231.3 125.2,230.9 125.0,229.1 124.8,229.1 124.5,228.4 124.3,227.4 124.0,227.1 123.7,226.8 123.5,225.0 123.2,224.1 123.0,223.5 122.7,223.0 122.5,222.5 122.2,221.1 122.0,221.2 121.8,219.5 121.6,219.5 121.4,218.5 121.2,217.7 121.1,217.6 121.0,215.7 120.9,214.9 120.8,214.3 120.7,213.5 120.6,211.6 120.5,211.3 120.5,209.9 120.4,209.5 120.3,208.9 120.3,207.4 120.2,206.4 120.2,205.7 120.1,203.6 120.1,204.5 120.1,203.8 120.0,203.0 120.0,202.5" fill="#0072B2" fill-opacity="0.2" stroke="#0072B2" stroke-opacity="0.26" stroke-width="1.45" stroke-linejoin="round"/>
<g fill="#000" stroke="none">
<circle cx="121.4" cy="39.4" r="2.75"/>
<circle cx="123.3" cy="122.7" r="2.75"/>
<circle cx="122.4" cy="129.6" r="2.75"/>
<circle cx="123.6" cy="138.7" r="2.75"/>
<circle cx="122.5" cy="142.7" r="2.75"/>
<circle cx="124.4" cy="177.3" r="2.75"/>
<circle cx="125.8" cy="215.8" r="2.75"/>
<circle cx="128.3" cy="215.8" r="2.75"/>
<circle cx="130.5" cy="230.0" r="2.75"/>
<circle cx="125.0" cy="234.0" r="2.75"/>
<circle cx="127.5" cy="242.5" r="2.75"/>
<circle cx="131.0" cy="242.0" r="2.75"/>
<circle cx="141.5" cy="243.3" r="2.75"/>
<circle cx="126.0" cy="247.5" r="2.75"/>
<circle cx="128.8" cy="247.5" r="2.75"/>
<circle cx="130.0" cy="248.0" r="2.75"/>
<circle cx="126.5" cy="258.0" r="2.75"/>
<circle cx="132.5" cy="258.5" r="2.75"/>
<circle cx="133.5" cy="263.8" r="2.75"/>
<circle cx="137.0" cy="264.0" r="2.75"/>
<circle cx="139.5" cy="266.0" r="2.75"/>
<circle cx="135.5" cy="272.0" r="2.75"/>
<circle cx="137.5" cy="273.0" r="2.75"/>
<circle cx="247.5" cy="358.8" r="2.75"/>
<circle cx="274.4" cy="378.8" r="2.75"/>
<circle cx="276.9" cy="383.8" r="2.75"/>
<circle cx="381.4" cy="426.2" r="2.75"/>
<circle cx="340.4" cy="423.8" r="2.75"/>
<circle cx="499.4" cy="387.2" r="2.75"/>
<circle cx="512.8" cy="381.9" r="2.75"/>
<circle cx="516.9" cy="391.9" r="2.75"/>
<circle cx="514.4" cy="393.8" r="2.75"/>
<circle cx="499.4" cy="398.8" r="2.75"/>
<circle cx="502.5" cy="401.2" r="2.75"/>
<circle cx="499.4" cy="404.4" r="2.75"/>
<circle cx="510.6" cy="401.2" r="2.75"/>
<circle cx="502.5" cy="408.8" r="2.75"/>
<circle cx="503.8" cy="412.5" r="2.75"/>
<circle cx="506.2" cy="415.0" r="2.75"/>
<circle cx="509.4" cy="414.4" r="2.75"/>
<circle cx="510.0" cy="417.5" r="2.75"/>
<circle cx="511.2" cy="421.2" r="2.75"/>
<circle cx="511.2" cy="423.8" r="2.75"/>
<circle cx="498.1" cy="418.8" r="2.75"/>
<circle cx="496.9" cy="421.9" r="2.75"/>
<circle cx="498.1" cy="432.5" r="2.75"/>
<circle cx="496.2" cy="435.6" r="2.75"/>
<circle cx="500.0" cy="403.5" r="2.75"/>
<circle cx="498.8" cy="400.0" r="2.75"/>
<circle cx="596.0" cy="397.8" r="2.75"/>
<circle cx="594.5" cy="429.0" r="2.75"/>
<circle cx="599.0" cy="414.0" r="2.75"/>
<circle cx="596.0" cy="417.0" r="2.75"/>
<circle cx="597.0" cy="420.0" r="2.75"/>
<circle cx="599.0" cy="424.0" r="2.75"/>
<circle cx="601.0" cy="432.0" r="2.75"/>
<circle cx="602.0" cy="435.0" r="2.75"/>
<circle cx="606.0" cy="428.0" r="2.75"/>
<circle cx="610.0" cy="432.0" r="2.75"/>
<circle cx="614.0" cy="434.0" r="2.75"/>
<circle cx="618.0" cy="435.0" r="2.75"/>
<circle cx="621.0" cy="432.0" r="2.75"/>
<circle cx="622.0" cy="436.0" r="2.75"/>
<circle cx="680.2" cy="386.2" r="2.75"/>
<circle cx="680.7" cy="387.7" r="2.75"/>
<circle cx="681.4" cy="393.2" r="2.75"/>
<circle cx="681.4" cy="400.4" r="2.75"/>
<circle cx="678.0" cy="406.0" r="2.75"/>
<circle cx="679.5" cy="406.0" r="2.75"/>
<circle cx="682.5" cy="409.7" r="2.75"/>
<circle cx="678.7" cy="415.7" r="2.75"/>
<circle cx="684.0" cy="415.0" r="2.75"/>
<circle cx="685.5" cy="418.7" r="2.75"/>
<circle cx="677.2" cy="425.5" r="2.75"/>
<circle cx="677.5" cy="405.8" r="2.75"/>
<circle cx="679.2" cy="406.7" r="2.75"/>
<circle cx="704.5" cy="454.0" r="2.75"/>
<circle cx="705.0" cy="449.5" r="2.75"/>
<circle cx="738.5" cy="419.0" r="2.75"/>
<circle cx="739.0" cy="424.0" r="2.75"/>
<circle cx="740.0" cy="429.0" r="2.75"/>
<circle cx="736.0" cy="432.0" r="2.75"/>
<circle cx="739.0" cy="435.0" r="2.75"/>
<circle cx="743.0" cy="439.0" r="2.75"/>
<circle cx="750.0" cy="434.0" r="2.75"/>
<circle cx="755.0" cy="434.0" r="2.75"/>
<circle cx="781.2" cy="424.2" r="2.75"/>
<circle cx="781.2" cy="430.8" r="2.75"/>
<circle cx="810.0" cy="452.5" r="2.75"/>
<circle cx="846.0" cy="401.0" r="2.75"/>
<circle cx="848.0" cy="400.5" r="2.75"/>
<circle cx="847.5" cy="392.5" r="2.75"/>
<circle cx="848.5" cy="387.0" r="2.75"/>
<circle cx="848.0" cy="384.0" r="2.75"/>
<circle cx="845.5" cy="421.5" r="2.75"/>
<circle cx="847.0" cy="399.0" r="2.75"/>
<circle cx="848.0" cy="392.0" r="2.75"/>
<circle cx="885.0" cy="348.0" r="2.75"/>
<circle cx="887.3" cy="352.7" r="2.75"/>
<circle cx="888.5" cy="360.8" r="2.75"/>
<circle cx="892.0" cy="355.0" r="2.75"/>
<circle cx="894.3" cy="358.5" r="2.75"/>
<circle cx="896.7" cy="346.8" r="2.75"/>
<circle cx="899.0" cy="350.3" r="2.75"/>
<circle cx="902.5" cy="351.5" r="2.75"/>
<circle cx="906.0" cy="351.5" r="2.75"/>
<circle cx="908.3" cy="353.8" r="2.75"/>
<circle cx="910.7" cy="348.0" r="2.75"/>
<circle cx="913.0" cy="344.5" r="2.75"/>
<circle cx="915.3" cy="345.7" r="2.75"/>
<circle cx="654.0" cy="518.5" r="2.75"/>
<circle cx="733.0" cy="518.5" r="2.75"/>
<circle cx="847.0" cy="399.0" r="2.75"/>
<circle cx="848.0" cy="392.0" r="2.75"/>
<circle cx="848.0" cy="384.0" r="2.75"/>
<circle cx="849.0" cy="377.0" r="2.75"/>
<circle cx="851.0" cy="374.0" r="2.75"/>
<circle cx="850.0" cy="368.0" r="2.75"/>
<circle cx="854.0" cy="370.0" r="2.75"/>
<circle cx="856.0" cy="372.0" r="2.75"/>
<circle cx="859.0" cy="364.0" r="2.75"/>
<circle cx="859.0" cy="357.0" r="2.75"/>
<circle cx="860.0" cy="350.0" r="2.75"/>
<circle cx="861.0" cy="346.0" r="2.75"/>
<circle cx="863.0" cy="342.0" r="2.75"/>
<circle cx="862.0" cy="352.0" r="2.75"/>
<circle cx="867.0" cy="348.0" r="2.75"/>
<circle cx="870.0" cy="348.0" r="2.75"/>
<circle cx="870.0" cy="343.0" r="2.75"/>
<circle cx="865.0" cy="345.0" r="2.75"/>
<circle cx="868.0" cy="343.0" r="2.75"/>
<circle cx="872.5" cy="343.0" r="2.75"/>
<circle cx="853.0" cy="370.0" r="2.75"/>
<circle cx="855.0" cy="374.0" r="2.75"/>
<circle cx="856.0" cy="368.0" r="2.75"/>
<circle cx="858.0" cy="363.0" r="2.75"/>
<circle cx="848.5" cy="380.0" r="2.75"/>
<circle cx="860.0" cy="353.0" r="2.75"/>
<circle cx="872.0" cy="363.0" r="2.75"/>
<circle cx="874.0" cy="372.0" r="2.75"/>
<circle cx="875.0" cy="368.0" r="2.75"/>
<circle cx="877.0" cy="364.0" r="2.75"/>
<circle cx="880.0" cy="361.0" r="2.75"/>
<circle cx="883.0" cy="358.0" r="2.75"/>
<circle cx="885.0" cy="350.0" r="2.75"/>
<circle cx="887.0" cy="350.0" r="2.75"/>
<circle cx="885.0" cy="355.0" r="2.75"/>
<circle cx="888.0" cy="361.0" r="2.75"/>
<circle cx="891.0" cy="353.0" r="2.75"/>
<circle cx="894.0" cy="359.0" r="2.75"/>
<circle cx="897.0" cy="347.0" r="2.75"/>
<circle cx="897.0" cy="352.0" r="2.75"/>
<circle cx="900.0" cy="353.0" r="2.75"/>
<circle cx="904.0" cy="353.0" r="2.75"/>
<circle cx="908.0" cy="353.0" r="2.75"/>
<circle cx="909.0" cy="347.0" r="2.75"/>
<circle cx="913.0" cy="345.0" r="2.75"/>
<circle cx="179.2" cy="300.8" r="2.75"/>
<circle cx="174.2" cy="304.2" r="2.75"/>
<circle cx="180.0" cy="304.2" r="2.75"/>
<circle cx="176.7" cy="308.3" r="2.75"/>
<circle cx="181.7" cy="310.0" r="2.75"/>
<circle cx="169.2" cy="308.3" r="2.75"/>
<circle cx="170.0" cy="311.7" r="2.75"/>
<circle cx="173.3" cy="313.3" r="2.75"/>
<circle cx="178.3" cy="315.0" r="2.75"/>
<circle cx="183.3" cy="315.0" r="2.75"/>
<circle cx="165.0" cy="316.7" r="2.75"/>
<circle cx="158.3" cy="310.0" r="2.75"/>
<circle cx="160.0" cy="313.3" r="2.75"/>
<circle cx="156.7" cy="316.7" r="2.75"/>
<circle cx="161.7" cy="320.0" r="2.75"/>
<circle cx="163.3" cy="323.3" r="2.75"/>
<circle cx="166.7" cy="318.3" r="2.75"/>
<circle cx="171.7" cy="321.7" r="2.75"/>
<circle cx="163.3" cy="331.7" r="2.75"/>
<circle cx="183.3" cy="323.3" r="2.75"/>
<circle cx="183.3" cy="331.7" r="2.75"/>
<circle cx="146.7" cy="266.7" r="2.75"/>
<circle cx="141.7" cy="270.0" r="2.75"/>
<circle cx="143.3" cy="276.7" r="2.75"/>
<circle cx="145.0" cy="281.7" r="2.75"/>
<circle cx="141.7" cy="281.7" r="2.75"/>
<circle cx="147.5" cy="289.2" r="2.75"/>
<circle cx="149.2" cy="295.8" r="2.75"/>
<circle cx="151.7" cy="298.3" r="2.75"/>
<circle cx="148.3" cy="300.0" r="2.75"/>
<circle cx="153.3" cy="303.3" r="2.75"/>
<circle cx="155.0" cy="301.7" r="2.75"/>
<circle cx="157.5" cy="302.5" r="2.75"/>
<circle cx="153.3" cy="305.0" r="2.75"/>
<circle cx="176.0" cy="318.0" r="2.75"/>
<circle cx="181.0" cy="320.0" r="2.75"/>
<circle cx="186.5" cy="331.5" r="2.75"/>
<circle cx="185.8" cy="336.0" r="2.75"/>
<circle cx="189.5" cy="338.2" r="2.75"/>
<circle cx="191.8" cy="340.5" r="2.75"/>
<circle cx="194.8" cy="342.8" r="2.75"/>
<circle cx="201.5" cy="340.1" r="2.75"/>
<circle cx="192.5" cy="347.2" r="2.75"/>
<circle cx="193.2" cy="352.5" r="2.75"/>
<circle cx="195.5" cy="354.8" r="2.75"/>
<circle cx="195.5" cy="360.0" r="2.75"/>
<circle cx="197.0" cy="349.5" r="2.75"/>
<circle cx="200.0" cy="348.0" r="2.75"/>
<circle cx="201.5" cy="351.8" r="2.75"/>
<circle cx="202.2" cy="356.2" r="2.75"/>
<circle cx="205.2" cy="354.0" r="2.75"/>
<circle cx="207.5" cy="354.8" r="2.75"/>
<circle cx="209.8" cy="356.2" r="2.75"/>
<circle cx="212.0" cy="354.8" r="2.75"/>
<circle cx="212.8" cy="349.5" r="2.75"/>
<circle cx="214.2" cy="345.8" r="2.75"/>
<circle cx="215.8" cy="342.0" r="2.75"/>
<circle cx="216.5" cy="337.5" r="2.75"/>
<circle cx="218.0" cy="336.0" r="2.75"/>
<circle cx="220.2" cy="337.5" r="2.75"/>
<circle cx="220.2" cy="340.5" r="2.75"/>
<circle cx="218.8" cy="343.5" r="2.75"/>
<circle cx="222.5" cy="345.0" r="2.75"/>
<circle cx="225.5" cy="345.0" r="2.75"/>
<circle cx="225.5" cy="348.8" r="2.75"/>
<circle cx="224.8" cy="352.5" r="2.75"/>
<circle cx="226.2" cy="354.8" r="2.75"/>
<circle cx="228.5" cy="357.0" r="2.75"/>
<circle cx="230.0" cy="358.5" r="2.75"/>
<circle cx="231.5" cy="360.0" r="2.75"/>
<circle cx="233.8" cy="361.5" r="2.75"/>
<circle cx="234.5" cy="365.2" r="2.75"/>
<circle cx="234.5" cy="369.0" r="2.75"/>
<circle cx="236.8" cy="372.0" r="2.75"/>
<circle cx="239.0" cy="369.0" r="2.75"/>
<circle cx="242.0" cy="364.5" r="2.75"/>
<circle cx="244.2" cy="360.0" r="2.75"/>
<circle cx="245.0" cy="354.0" r="2.75"/>
<circle cx="217.0" cy="340.0" r="2.75"/>
<circle cx="219.0" cy="339.0" r="2.75"/>
<circle cx="204.0" cy="352.0" r="2.75"/>
<circle cx="198.0" cy="352.0" r="2.75"/>
<circle cx="188.0" cy="337.0" r="2.75"/>
<circle cx="240.0" cy="364.0" r="2.75"/>
<circle cx="240.0" cy="370.0" r="2.75"/>
<circle cx="243.0" cy="359.0" r="2.75"/>
<circle cx="246.0" cy="354.0" r="2.75"/>
<circle cx="247.0" cy="357.0" r="2.75"/>
<circle cx="253.0" cy="350.0" r="2.75"/>
<circle cx="254.0" cy="353.0" r="2.75"/>
<circle cx="252.0" cy="359.0" r="2.75"/>
<circle cx="499.0" cy="417.0" r="2.75"/>
<circle cx="501.0" cy="419.0" r="2.75"/>
<circle cx="500.0" cy="421.0" r="2.75"/>
<circle cx="503.0" cy="410.0" r="2.75"/>
<circle cx="505.0" cy="412.0" r="2.75"/>
<circle cx="513.9" cy="396.1" r="2.75"/>
<circle cx="510.6" cy="401.6" r="2.75"/>
<circle cx="526.7" cy="398.9" r="2.75"/>
<circle cx="523.0" cy="401.6" r="2.75"/>
<circle cx="519.4" cy="402.5" r="2.75"/>
<circle cx="516.6" cy="407.1" r="2.75"/>
<circle cx="517.5" cy="410.8" r="2.75"/>
<circle cx="521.2" cy="406.2" r="2.75"/>
<circle cx="524.9" cy="405.3" r="2.75"/>
<circle cx="527.6" cy="403.4" r="2.75"/>
<circle cx="523.9" cy="411.7" r="2.75"/>
<circle cx="527.6" cy="409.9" r="2.75"/>
<circle cx="521.2" cy="409.9" r="2.75"/>
<circle cx="519.0" cy="405.0" r="2.75"/>
<circle cx="525.5" cy="401.0" r="2.75"/>
<circle cx="529.0" cy="407.0" r="2.75"/>
<circle cx="520.0" cy="413.0" r="2.75"/>
</g><g fill="none" stroke="#000" stroke-linecap="round" stroke-linejoin="round">
<polyline points="301.0,424.0 302.0,428.0 303.0,432.0 305.0,434.0 308.0,433.0 311.0,431.0 314.0,433.0 317.0,432.0 319.5,425.0 322.0,428.0 323.0,432.0 326.0,429.0 330.0,428.0 332.0,425.0 333.0,419.0 335.0,421.0 339.0,423.0 340.0,425.0 340.0,429.0 343.0,430.0 345.0,431.0" stroke-width="4.3"/>
<polyline points="578.0,434.0 580.0,437.5 585.0,437.5 590.0,438.5 593.0,441.0" stroke-width="5.3"/>
<polyline points="615.0,436.7 617.5,438.3 620.8,432.5 624.2,434.2 627.5,435.0 630.8,426.7 635.0,425.4 636.7,430.0 639.2,433.3 642.5,435.8 646.7,435.8 650.8,436.7 655.0,438.3 659.2,440.0 663.3,439.2 666.7,439.2 671.7,438.3 676.2,438.3" stroke-width="4.3"/>
<polyline points="619.0,436.0 625.0,437.0 632.0,428.0" stroke-width="4.3"/>
<polyline points="646.0,438.5 651.0,440.0 672.5,440.8" stroke-width="4.3"/>
<polyline points="681.7,410.0 683.3,413.3 685.0,417.5 685.8,420.8 686.7,425.8 688.3,429.2" stroke-width="4.3"/>
<polyline points="685.0,412.0 687.0,417.0 686.5,422.0 685.0,427.0 689.0,428.0 692.0,431.0 694.0,434.0 697.0,432.0 700.0,432.0 702.0,434.0 703.5,437.0 703.0,441.0 705.0,443.0 706.0,448.0 704.5,454.0" stroke-width="4.3"/>
<polyline points="708.0,440.0 711.0,439.0 715.0,439.0 718.0,440.0 721.0,441.0 725.0,439.5 729.0,440.0 733.0,441.5 737.0,441.0 741.0,440.0 745.0,440.0 749.0,439.0 753.0,438.5 757.0,439.0 760.0,438.0 765.0,438.3 770.0,437.0 775.0,437.5 780.0,437.0 784.2,435.5 786.2,434.0" stroke-width="5.8"/>
<polyline points="785.8,427.1 788.3,425.8 791.7,425.8 794.2,426.7 795.8,430.0 798.3,432.5 801.7,434.2 805.0,433.3 808.3,435.8 810.0,439.2 808.3,442.5 811.7,445.8" stroke-width="4.3"/>
<polyline points="811.7,445.8 813.3,441.7 816.7,438.8 820.0,440.0 823.3,440.5 826.7,439.2 830.0,437.5 835.0,435.0 840.0,435.0 845.0,434.5" stroke-width="5.3"/>
<polyline points="279.0,387.0 280.0,391.0 280.0,395.0 281.0,398.0 282.0,403.0 283.0,407.0 285.0,410.0 287.0,413.5 290.0,415.0 294.0,415.5 297.0,415.0 299.5,412.0 301.0,414.5" stroke-width="4.3"/>
</g><g fill="#000">
<circle cx="301.0" cy="424.0" r="2.75"/>
<circle cx="301.8" cy="426.0" r="2.75"/>
<circle cx="302.0" cy="428.1" r="2.75"/>
<circle cx="302.2" cy="430.0" r="2.75"/>
<circle cx="303.1" cy="432.2" r="2.75"/>
<circle cx="304.7" cy="433.9" r="2.75"/>
<circle cx="307.7" cy="433.2" r="2.75"/>
<circle cx="311.2" cy="430.7" r="2.75"/>
<circle cx="314.4" cy="433.3" r="2.75"/>
<circle cx="317.1" cy="432.1" r="2.75"/>
<circle cx="317.6" cy="429.4" r="2.75"/>
<circle cx="318.7" cy="427.1" r="2.75"/>
<circle cx="319.3" cy="424.8" r="2.75"/>
<circle cx="320.4" cy="426.5" r="2.75"/>
<circle cx="322.0" cy="428.2" r="2.75"/>
<circle cx="322.5" cy="430.1" r="2.75"/>
<circle cx="323.0" cy="432.1" r="2.75"/>
<circle cx="324.5" cy="430.4" r="2.75"/>
<circle cx="326.4" cy="429.3" r="2.75"/>
<circle cx="328.3" cy="428.6" r="2.75"/>
<circle cx="329.9" cy="427.8" r="2.75"/>
<circle cx="331.8" cy="424.7" r="2.75"/>
<circle cx="332.5" cy="422.9" r="2.75"/>
<circle cx="332.9" cy="420.9" r="2.75"/>
<circle cx="333.4" cy="419.2" r="2.75"/>
<circle cx="334.6" cy="420.8" r="2.75"/>
<circle cx="337.3" cy="422.0" r="2.75"/>
<circle cx="339.4" cy="422.9" r="2.75"/>
<circle cx="339.7" cy="425.1" r="2.75"/>
<circle cx="340.2" cy="426.9" r="2.75"/>
<circle cx="339.7" cy="428.9" r="2.75"/>
<circle cx="343.4" cy="430.2" r="2.75"/>
<circle cx="345.0" cy="431.0" r="2.75"/>
<circle cx="577.7" cy="433.7" r="2.75"/>
<circle cx="578.7" cy="435.3" r="2.75"/>
<circle cx="580.2" cy="437.2" r="2.75"/>
<circle cx="582.5" cy="437.4" r="2.75"/>
<circle cx="584.8" cy="437.7" r="2.75"/>
<circle cx="587.2" cy="438.1" r="2.75"/>
<circle cx="589.7" cy="438.4" r="2.75"/>
<circle cx="591.3" cy="439.5" r="2.75"/>
<circle cx="593.0" cy="441.0" r="2.75"/>
<circle cx="615.4" cy="436.9" r="2.75"/>
<circle cx="617.3" cy="438.5" r="2.75"/>
<circle cx="618.4" cy="436.3" r="2.75"/>
<circle cx="620.0" cy="434.5" r="2.75"/>
<circle cx="620.5" cy="432.8" r="2.75"/>
<circle cx="622.3" cy="433.2" r="2.75"/>
<circle cx="624.4" cy="434.1" r="2.75"/>
<circle cx="627.3" cy="434.7" r="2.75"/>
<circle cx="628.0" cy="433.0" r="2.75"/>
<circle cx="628.9" cy="430.9" r="2.75"/>
<circle cx="629.9" cy="428.7" r="2.75"/>
<circle cx="631.2" cy="426.7" r="2.75"/>
<circle cx="633.0" cy="426.3" r="2.75"/>
<circle cx="634.7" cy="425.2" r="2.75"/>
<circle cx="636.2" cy="427.9" r="2.75"/>
<circle cx="636.5" cy="429.8" r="2.75"/>
<circle cx="638.1" cy="431.9" r="2.75"/>
<circle cx="639.0" cy="433.6" r="2.75"/>
<circle cx="641.2" cy="434.6" r="2.75"/>
<circle cx="642.4" cy="435.6" r="2.75"/>
<circle cx="644.2" cy="436.1" r="2.75"/>
<circle cx="646.5" cy="435.9" r="2.75"/>
<circle cx="648.6" cy="436.4" r="2.75"/>
<circle cx="650.9" cy="436.6" r="2.75"/>
<circle cx="652.6" cy="437.6" r="2.75"/>
<circle cx="654.7" cy="438.1" r="2.75"/>
<circle cx="657.1" cy="439.4" r="2.75"/>
<circle cx="659.3" cy="439.9" r="2.75"/>
<circle cx="661.6" cy="439.4" r="2.75"/>
<circle cx="662.9" cy="439.1" r="2.75"/>
<circle cx="666.7" cy="438.9" r="2.75"/>
<circle cx="668.9" cy="438.7" r="2.75"/>
<circle cx="671.8" cy="438.1" r="2.75"/>
<circle cx="673.9" cy="438.5" r="2.75"/>
<circle cx="676.2" cy="438.3" r="2.75"/>
<circle cx="619.4" cy="436.1" r="2.75"/>
<circle cx="621.2" cy="436.4" r="2.75"/>
<circle cx="622.7" cy="436.4" r="2.75"/>
<circle cx="624.6" cy="437.2" r="2.75"/>
<circle cx="626.3" cy="435.8" r="2.75"/>
<circle cx="627.0" cy="434.1" r="2.75"/>
<circle cx="628.5" cy="432.6" r="2.75"/>
<circle cx="629.5" cy="431.3" r="2.75"/>
<circle cx="630.5" cy="429.5" r="2.75"/>
<circle cx="632.0" cy="428.0" r="2.75"/>
<circle cx="646.2" cy="438.7" r="2.75"/>
<circle cx="648.7" cy="439.4" r="2.75"/>
<circle cx="651.2" cy="440.2" r="2.75"/>
<circle cx="652.8" cy="440.2" r="2.75"/>
<circle cx="655.2" cy="440.4" r="2.75"/>
<circle cx="656.8" cy="440.4" r="2.75"/>
<circle cx="659.1" cy="440.3" r="2.75"/>
<circle cx="660.9" cy="440.3" r="2.75"/>
<circle cx="662.8" cy="440.5" r="2.75"/>
<circle cx="664.3" cy="440.6" r="2.75"/>
<circle cx="667.0" cy="440.8" r="2.75"/>
<circle cx="668.8" cy="440.6" r="2.75"/>
<circle cx="670.7" cy="440.8" r="2.75"/>
<circle cx="672.5" cy="440.8" r="2.75"/>
<circle cx="681.7" cy="410.2" r="2.75"/>
<circle cx="683.0" cy="413.5" r="2.75"/>
<circle cx="683.8" cy="415.5" r="2.75"/>
<circle cx="685.0" cy="417.3" r="2.75"/>
<circle cx="686.0" cy="420.8" r="2.75"/>
<circle cx="686.3" cy="423.6" r="2.75"/>
<circle cx="686.5" cy="425.5" r="2.75"/>
<circle cx="688.3" cy="429.2" r="2.75"/>
<circle cx="684.8" cy="412.1" r="2.75"/>
<circle cx="685.8" cy="414.3" r="2.75"/>
<circle cx="687.3" cy="417.1" r="2.75"/>
<circle cx="686.7" cy="419.7" r="2.75"/>
<circle cx="686.4" cy="422.1" r="2.75"/>
<circle cx="685.5" cy="424.5" r="2.75"/>
<circle cx="685.2" cy="427.2" r="2.75"/>
<circle cx="687.3" cy="427.4" r="2.75"/>
<circle cx="689.1" cy="427.9" r="2.75"/>
<circle cx="690.2" cy="429.5" r="2.75"/>
<circle cx="692.3" cy="431.2" r="2.75"/>
<circle cx="694.2" cy="434.3" r="2.75"/>
<circle cx="696.8" cy="431.8" r="2.75"/>
<circle cx="700.0" cy="431.9" r="2.75"/>
<circle cx="701.8" cy="433.9" r="2.75"/>
<circle cx="703.6" cy="437.0" r="2.75"/>
<circle cx="703.1" cy="439.2" r="2.75"/>
<circle cx="703.4" cy="441.0" r="2.75"/>
<circle cx="704.7" cy="442.7" r="2.75"/>
<circle cx="705.8" cy="445.2" r="2.75"/>
<circle cx="706.2" cy="448.0" r="2.75"/>
<circle cx="705.3" cy="450.2" r="2.75"/>
<circle cx="704.6" cy="451.8" r="2.75"/>
<circle cx="704.5" cy="454.0" r="2.75"/>
<circle cx="708.0" cy="439.3" r="2.75"/>
<circle cx="711.3" cy="438.6" r="2.75"/>
<circle cx="712.7" cy="438.3" r="2.75"/>
<circle cx="715.1" cy="438.9" r="2.75"/>
<circle cx="718.1" cy="440.2" r="2.75"/>
<circle cx="721.2" cy="441.7" r="2.75"/>
<circle cx="723.1" cy="439.8" r="2.75"/>
<circle cx="725.0" cy="439.0" r="2.75"/>
<circle cx="726.6" cy="439.7" r="2.75"/>
<circle cx="729.2" cy="439.5" r="2.75"/>
<circle cx="730.8" cy="440.5" r="2.75"/>
<circle cx="733.2" cy="441.5" r="2.75"/>
<circle cx="735.1" cy="441.6" r="2.75"/>
<circle cx="736.9" cy="441.4" r="2.75"/>
<circle cx="739.3" cy="439.9" r="2.75"/>
<circle cx="741.3" cy="440.3" r="2.75"/>
<circle cx="742.7" cy="439.9" r="2.75"/>
<circle cx="745.1" cy="440.6" r="2.75"/>
<circle cx="746.9" cy="439.6" r="2.75"/>
<circle cx="749.3" cy="439.4" r="2.75"/>
<circle cx="751.4" cy="438.7" r="2.75"/>
<circle cx="753.1" cy="438.1" r="2.75"/>
<circle cx="755.2" cy="439.2" r="2.75"/>
<circle cx="757.1" cy="439.3" r="2.75"/>
<circle cx="759.8" cy="438.6" r="2.75"/>
<circle cx="762.9" cy="438.9" r="2.75"/>
<circle cx="765.0" cy="438.7" r="2.75"/>
<circle cx="767.4" cy="438.3" r="2.75"/>
<circle cx="770.3" cy="436.8" r="2.75"/>
<circle cx="772.2" cy="437.2" r="2.75"/>
<circle cx="775.0" cy="437.9" r="2.75"/>
<circle cx="777.5" cy="436.5" r="2.75"/>
<circle cx="780.2" cy="436.3" r="2.75"/>
<circle cx="782.3" cy="435.8" r="2.75"/>
<circle cx="784.1" cy="435.9" r="2.75"/>
<circle cx="786.2" cy="434.0" r="2.75"/>
<circle cx="785.5" cy="426.9" r="2.75"/>
<circle cx="788.3" cy="425.9" r="2.75"/>
<circle cx="792.0" cy="425.9" r="2.75"/>
<circle cx="794.6" cy="426.7" r="2.75"/>
<circle cx="796.2" cy="429.8" r="2.75"/>
<circle cx="798.1" cy="432.5" r="2.75"/>
<circle cx="799.8" cy="433.5" r="2.75"/>
<circle cx="801.8" cy="434.2" r="2.75"/>
<circle cx="805.3" cy="433.3" r="2.75"/>
<circle cx="806.5" cy="434.5" r="2.75"/>
<circle cx="808.6" cy="436.0" r="2.75"/>
<circle cx="808.9" cy="437.7" r="2.75"/>
<circle cx="810.4" cy="439.2" r="2.75"/>
<circle cx="808.4" cy="442.3" r="2.75"/>
<circle cx="810.0" cy="444.2" r="2.75"/>
<circle cx="811.7" cy="445.8" r="2.75"/>
<circle cx="811.8" cy="445.3" r="2.75"/>
<circle cx="812.9" cy="443.8" r="2.75"/>
<circle cx="813.2" cy="442.0" r="2.75"/>
<circle cx="815.1" cy="440.2" r="2.75"/>
<circle cx="816.9" cy="438.4" r="2.75"/>
<circle cx="820.0" cy="439.9" r="2.75"/>
<circle cx="823.7" cy="440.9" r="2.75"/>
<circle cx="826.5" cy="439.2" r="2.75"/>
<circle cx="829.7" cy="437.4" r="2.75"/>
<circle cx="832.8" cy="436.7" r="2.75"/>
<circle cx="835.0" cy="434.8" r="2.75"/>
<circle cx="837.3" cy="435.1" r="2.75"/>
<circle cx="840.3" cy="434.6" r="2.75"/>
<circle cx="842.7" cy="434.3" r="2.75"/>
<circle cx="845.0" cy="434.5" r="2.75"/>
<circle cx="278.8" cy="386.8" r="2.75"/>
<circle cx="279.6" cy="388.9" r="2.75"/>
<circle cx="279.9" cy="391.1" r="2.75"/>
<circle cx="279.7" cy="393.1" r="2.75"/>
<circle cx="279.7" cy="395.0" r="2.75"/>
<circle cx="280.8" cy="397.8" r="2.75"/>
<circle cx="281.5" cy="400.5" r="2.75"/>
<circle cx="281.9" cy="402.9" r="2.75"/>
<circle cx="282.5" cy="404.8" r="2.75"/>
<circle cx="282.8" cy="407.1" r="2.75"/>
<circle cx="285.1" cy="410.0" r="2.75"/>
<circle cx="286.3" cy="411.8" r="2.75"/>
<circle cx="287.3" cy="413.3" r="2.75"/>
<circle cx="290.2" cy="415.2" r="2.75"/>
<circle cx="292.3" cy="415.1" r="2.75"/>
<circle cx="293.9" cy="415.8" r="2.75"/>
<circle cx="296.8" cy="415.3" r="2.75"/>
<circle cx="298.6" cy="413.3" r="2.75"/>
<circle cx="299.3" cy="412.1" r="2.75"/>
<circle cx="301.0" cy="414.5" r="2.75"/>
</g><g fill="#000" stroke="#000" stroke-width="1" stroke-linejoin="round">
<polygon points="340.0,428.3 345.0,430.0 350.0,431.7 356.7,434.2 365.0,434.2 373.3,434.2 381.7,431.7 390.0,433.3 398.3,435.0 406.7,436.7 410.0,437.1 414.2,437.1 418.3,437.9 422.5,439.6 426.7,439.6 430.8,441.7 435.0,440.8 438.3,439.2 441.7,440.8 445.0,443.3 448.3,446.7 451.7,448.3 455.0,447.5 458.3,446.7 461.7,445.0 466.7,444.2 471.7,443.5 476.7,443.0 481.7,442.5 488.0,443.0 494.0,443.5 498.0,444.5 498.0,449.0 490.0,450.0 485.0,450.4 481.7,450.0 476.7,449.5 471.7,450.0 466.7,450.8 461.7,452.1 456.7,452.9 451.7,453.3 447.5,451.7 443.3,448.3 439.2,446.3 435.0,446.7 430.8,447.1 426.7,445.8 422.5,445.0 418.3,445.0 414.2,445.0 410.0,443.3 402.5,441.7 394.2,440.8 385.8,440.8 380.0,442.0 373.3,441.7 365.0,440.8 356.7,440.8 350.0,440.0 345.0,434.2 340.0,432.5"/>
<polygon points="530.0,410.0 532.5,408.8 540.0,411.2 547.5,411.2 550.0,411.5 555.0,409.0 560.0,411.5 565.0,414.0 570.0,416.0 575.0,420.0 577.0,423.0 577.0,427.0 575.0,426.0 570.0,423.0 565.0,420.0 560.0,417.0 555.0,417.0 550.0,418.0 545.0,417.5 537.5,419.4 532.5,415.0 530.0,414.0"/>
<polygon points="249.0,351.0 253.0,356.0 257.5,361.2 261.7,364.6 265.8,369.6 269.2,375.4 271.7,376.4 274.2,376.4 277.5,378.0 279.5,382.0 281.7,394.4 280.0,388.5 278.3,384.5 275.0,388.5 272.5,391.0 270.0,388.5 268.3,383.5 265.8,377.8 261.7,372.8 257.5,370.3 253.3,364.5 249.0,362.0"/>
</g>
<path d="M119.70,200.30 C120.17,201.42 121.62,204.47 122.50,207.00 C123.38,209.53 124.22,212.22 125.00,215.50 C125.78,218.78 126.57,223.17 127.20,226.70 C127.83,230.23 128.20,233.15 128.80,236.70 C129.40,240.25 130.02,245.20 130.80,248.00 C131.58,250.80 132.55,252.00 133.50,253.50 C134.45,255.00 135.42,255.58 136.50,257.00 C137.58,258.42 138.83,259.83 140.00,262.00 C141.17,264.17 142.33,267.25 143.50,270.00 C144.67,272.75 145.92,276.33 147.00,278.50 C148.08,280.67 148.83,281.42 150.00,283.00 C151.17,284.58 152.33,285.42 154.00,288.00 C155.67,290.58 157.88,294.83 160.00,298.50 C162.12,302.17 164.48,306.70 166.70,310.00 C168.92,313.30 171.37,315.93 173.30,318.30 C175.23,320.67 176.63,322.53 178.30,324.20 C179.97,325.87 181.56,325.96 183.30,328.30 C185.04,330.64 187.22,335.47 188.75,338.25 C190.28,341.03 191.38,343.50 192.50,345.00 C193.62,346.50 194.25,347.38 195.50,347.25 C196.75,347.12 198.62,344.50 200.00,344.25 C201.38,344.00 202.62,345.00 203.75,345.75 C204.88,346.50 205.62,347.75 206.75,348.75 C207.88,349.75 209.38,351.75 210.50,351.75 C211.62,351.75 212.38,349.81 213.50,348.75 C214.62,347.69 216.12,345.65 217.25,345.40 C218.38,345.15 219.12,346.32 220.25,347.25 C221.38,348.18 222.62,350.19 224.00,351.00 C225.38,351.81 227.00,351.48 228.50,352.10 C230.00,352.73 231.50,353.43 233.00,354.75 C234.50,356.07 236.12,358.62 237.50,360.00 C238.88,361.38 240.00,362.50 241.25,363.00 C242.50,363.50 243.71,363.08 245.00,363.00 C246.29,362.92 247.67,362.17 249.00,362.50 C250.33,362.83 251.67,363.75 253.00,365.00 C254.33,366.25 255.67,368.75 257.00,370.00 C258.33,371.25 259.83,371.67 261.00,372.50 C262.17,373.33 263.00,373.75 264.00,375.00 C265.00,376.25 266.00,378.33 267.00,380.00 C268.00,381.67 269.17,383.83 270.00,385.00 C270.83,386.17 271.17,387.17 272.00,387.00 C272.83,386.83 274.00,385.17 275.00,384.00 C276.00,382.83 277.17,380.67 278.00,380.00 C278.83,379.33 279.33,379.33 280.00,380.00 C280.67,380.67 281.33,382.33 282.00,384.00 C282.67,385.67 283.33,387.67 284.00,390.00 C284.67,392.33 285.28,395.00 286.00,398.00 C286.72,401.00 287.35,405.30 288.30,408.00 C289.25,410.70 290.30,413.17 291.70,414.20 C293.10,415.23 295.32,413.93 296.70,414.20 C298.08,414.47 298.90,414.70 300.00,415.80 C301.10,416.90 302.18,419.22 303.30,420.80 C304.42,422.38 305.58,424.62 306.70,425.30 C307.82,425.98 308.78,424.97 310.00,424.90 C311.22,424.83 312.67,424.27 314.00,424.90 C315.33,425.53 316.67,427.52 318.00,428.70 C319.33,429.88 320.45,431.38 322.00,432.00 C323.55,432.62 325.75,432.07 327.30,432.40 C328.85,432.73 329.97,433.52 331.30,434.00 C332.63,434.48 333.52,435.52 335.30,435.30 C337.08,435.08 340.22,432.47 342.00,432.70 C343.78,432.93 344.45,435.03 346.00,436.70 C347.55,438.37 349.63,442.48 351.30,442.70 C352.97,442.92 354.55,439.23 356.00,438.00 C357.45,436.77 358.78,435.42 360.00,435.30 C361.22,435.18 362.08,436.52 363.30,437.30 C364.52,438.08 365.97,440.33 367.30,440.00 C368.63,439.67 369.73,437.02 371.30,435.30 C372.87,433.58 375.13,430.47 376.70,429.70 C378.27,428.93 379.37,430.10 380.70,430.70 C382.03,431.30 383.15,432.80 384.70,433.30 C386.25,433.80 388.23,432.92 390.00,433.70 C391.77,434.48 393.75,436.62 395.30,438.00 C396.85,439.38 397.97,441.78 399.30,442.00 C400.63,442.22 401.97,440.18 403.30,439.30 C404.63,438.42 406.07,436.92 407.30,436.70 C408.53,436.48 409.47,437.33 410.70,438.00 C411.93,438.67 413.15,440.15 414.70,440.70 C416.25,441.25 418.45,440.87 420.00,441.30 C421.55,441.73 422.55,442.40 424.00,443.30 C425.45,444.20 427.25,447.25 428.70,446.70 C430.15,446.15 431.15,442.78 432.70,440.00 C434.25,437.22 436.45,430.78 438.00,430.00 C439.55,429.22 440.78,432.97 442.00,435.30 C443.22,437.63 444.08,441.22 445.30,444.00 C446.52,446.78 447.97,451.33 449.30,452.00 C450.63,452.67 451.97,449.22 453.30,448.00 C454.63,446.78 455.97,444.82 457.30,444.70 C458.63,444.58 460.18,446.53 461.30,447.30 C462.42,448.07 462.88,449.52 464.00,449.30 C465.12,449.08 466.67,447.22 468.00,446.00 C469.33,444.78 470.45,442.78 472.00,442.00 C473.55,441.22 475.97,441.63 477.30,441.30 C478.63,440.97 478.67,440.88 480.00,440.00 C481.33,439.12 483.30,437.00 485.30,436.00 C487.30,435.00 490.00,435.22 492.00,434.00 C494.00,432.78 495.75,430.25 497.30,428.70 C498.85,427.15 499.97,425.03 501.30,424.70 C502.63,424.37 504.07,425.87 505.30,426.70 C506.53,427.53 507.58,429.70 508.70,429.70 C509.82,429.70 510.78,428.10 512.00,426.70 C513.22,425.30 514.67,422.75 516.00,421.30 C517.33,419.85 518.45,418.55 520.00,418.00 C521.55,417.45 523.75,418.67 525.30,418.00 C526.85,417.33 527.73,415.88 529.30,414.00 C530.87,412.12 533.13,407.82 534.70,406.70 C536.27,405.58 537.15,406.87 538.70,407.30 C540.25,407.73 542.23,409.07 544.00,409.30 C545.77,409.53 547.75,408.47 549.30,408.70 C550.85,408.93 551.97,409.70 553.30,410.70 C554.63,411.70 555.97,414.15 557.30,414.70 C558.63,415.25 559.97,414.45 561.30,414.00 C562.63,413.55 563.97,412.00 565.30,412.00 C566.63,412.00 567.97,413.12 569.30,414.00 C570.63,414.88 571.63,416.42 573.30,417.30 C574.97,418.18 577.63,418.40 579.30,419.30 C580.97,420.20 582.07,421.58 583.30,422.70 C584.53,423.82 585.58,426.23 586.70,426.00 C587.82,425.77 588.90,423.08 590.00,421.30 C591.10,419.52 592.18,416.73 593.30,415.30 C594.42,413.87 595.70,412.58 596.70,412.70 C597.70,412.82 598.42,413.90 599.30,416.00 C600.18,418.10 601.10,422.18 602.00,425.30 C602.90,428.42 603.70,432.37 604.70,434.70 C605.70,437.03 606.90,438.97 608.00,439.30 C609.10,439.63 610.18,437.25 611.30,436.70 C612.42,436.15 613.58,435.67 614.70,436.00 C615.82,436.33 616.67,437.70 618.00,438.70 C619.33,439.70 621.15,441.90 622.70,442.00 C624.25,442.10 625.87,439.85 627.30,439.30 C628.73,438.75 629.97,438.47 631.30,438.70 C632.63,438.93 633.97,440.27 635.30,440.70 C636.63,441.13 637.73,441.53 639.30,441.30 C640.87,441.07 642.92,439.63 644.70,439.30 C646.48,438.97 648.45,439.63 650.00,439.30 C651.55,438.97 652.55,437.85 654.00,437.30 C655.45,436.75 656.95,435.72 658.70,436.00 C660.45,436.28 662.78,438.00 664.50,439.00 C666.22,440.00 667.50,442.50 669.00,442.00 C670.50,441.50 672.00,437.50 673.50,436.00 C675.00,434.50 676.25,433.13 678.00,433.00 C679.75,432.87 682.25,435.45 684.00,435.20 C685.75,434.95 686.88,433.12 688.50,431.50 C690.12,429.88 691.95,426.13 693.70,425.50 C695.45,424.87 697.12,427.33 699.00,427.70 C700.88,428.07 703.25,427.45 705.00,427.70 C706.75,427.95 708.00,428.32 709.50,429.20 C711.00,430.08 712.50,432.12 714.00,433.00 C715.50,433.88 717.00,434.50 718.50,434.50 C720.00,434.50 721.50,432.75 723.00,433.00 C724.50,433.25 725.75,435.13 727.50,436.00 C729.25,436.87 731.50,437.70 733.50,438.20 C735.50,438.70 737.63,438.00 739.50,439.00 C741.37,440.00 742.95,444.45 744.70,444.20 C746.45,443.95 748.50,439.57 750.00,437.50 C751.50,435.43 752.45,431.97 753.70,431.80 C754.95,431.63 756.25,433.97 757.50,436.50 C758.75,439.03 759.95,444.25 761.20,447.00 C762.45,449.75 763.75,452.50 765.00,453.00 C766.25,453.50 767.45,451.25 768.70,450.00 C769.95,448.75 771.12,446.13 772.50,445.50 C773.88,444.87 775.63,445.83 777.00,446.20 C778.37,446.57 779.20,448.20 780.70,447.70 C782.20,447.20 784.37,444.57 786.00,443.20 C787.63,441.83 789.00,440.37 790.50,439.50 C792.00,438.63 793.25,439.00 795.00,438.00 C796.75,437.00 799.00,434.88 801.00,433.50 C803.00,432.12 805.25,430.95 807.00,429.70 C808.75,428.45 810.00,427.37 811.50,426.00 C813.00,424.63 814.50,422.88 816.00,421.50 C817.50,420.12 819.00,418.03 820.50,417.70 C822.00,417.37 823.75,419.78 825.00,419.50 C826.25,419.22 827.00,417.58 828.00,416.00 C829.00,414.42 829.83,412.08 831.00,410.00 C832.17,407.92 833.83,404.92 835.00,403.50 C836.17,402.08 837.00,401.92 838.00,401.50 C839.00,401.08 840.08,401.42 841.00,401.00 C841.92,400.58 842.83,400.00 843.50,399.00 C844.17,398.00 844.42,396.75 845.00,395.00 C845.58,393.25 846.00,390.83 847.00,388.50 C848.00,386.17 849.67,382.67 851.00,381.00 C852.33,379.33 853.50,379.33 855.00,378.50 C856.50,377.67 858.33,377.25 860.00,376.00 C861.67,374.75 863.33,372.00 865.00,371.00 C866.67,370.00 868.33,370.33 870.00,370.00 C871.67,369.67 873.50,370.17 875.00,369.00 C876.50,367.83 877.67,364.50 879.00,363.00 C880.33,361.50 881.67,360.58 883.00,360.00 C884.33,359.42 885.67,359.83 887.00,359.50 C888.33,359.17 889.50,358.58 891.00,358.00 C892.50,357.42 894.50,356.25 896.00,356.00 C897.50,355.75 898.83,356.00 900.00,356.50 C901.17,357.00 902.00,359.08 903.00,359.00 C904.00,358.92 905.00,357.67 906.00,356.00 C907.00,354.33 908.00,351.50 909.00,349.00 C910.00,346.50 911.17,342.50 912.00,341.00 C912.83,339.50 913.33,339.67 914.00,340.00 C914.67,340.33 915.42,342.17 916.00,343.00 C916.58,343.83 917.25,344.67 917.50,345.00" fill="none" stroke="#0072B2" stroke-width="2.08" stroke-linejoin="round" stroke-linecap="butt"/>
<g fill="#0072B2"><path d="M917.80,249.1 Q919.00,246.9 920.20,249.1 L920.20,266 L917.80,266 Z"/><path d="M920.70,256.6 Q921.90,254.4 923.10,256.6 L923.10,266 L920.70,266 Z"/><path d="M923.80,257.5 Q925.00,255.3 926.20,257.5 L926.20,266 L923.80,266 Z"/><path d="M926.90,252.8 Q928.10,250.6 929.30,252.8 L929.30,266 L926.90,266 Z"/><path d="M929.90,249.5 Q931.10,247.3 932.30,249.5 L932.30,266 L929.90,266 Z"/><path d="M932.80,249.9 Q934.00,247.7 935.20,249.9 L935.20,266 L932.80,266 Z"/><path d="M935.90,252.0 Q937.10,249.8 938.30,252.0 L938.30,266 L935.90,266 Z"/><path d="M938.90,252.0 Q940.10,249.8 941.30,252.0 L941.30,266 L938.90,266 Z"/><path d="M942.10,248.2 Q943.30,246.0 944.50,248.2 L944.50,266 L942.10,266 Z"/><polygon points="917.6,262.0 944.8,262.0 944.8,352.0 944.8,351.7 942.0,354.2 938.7,356.2 935.3,354.6 932.0,353.8 929.5,355.8 927.0,359.2 923.7,361.7 920.3,356.7 918.7,351.7 917.4,345.8"/></g>
<defs><linearGradient id="fg" x1="0" y1="0" x2="0" y2="1"><stop offset="0" stop-color="#fff" stop-opacity="0.55"/><stop offset="1" stop-color="#fff" stop-opacity="0"/></linearGradient></defs>
<g fill="url(#fg)"><rect x="920.00" y="262" width="0.9" height="50"/><rect x="923.00" y="262" width="0.9" height="50"/><rect x="926.10" y="262" width="0.9" height="50"/><rect x="929.15" y="262" width="0.9" height="50"/><rect x="932.10" y="262" width="0.9" height="50"/><rect x="935.10" y="262" width="0.9" height="50"/><rect x="938.15" y="262" width="0.9" height="50"/><rect x="941.25" y="262" width="0.9" height="50"/></g>
<g fill="#0072B2" fill-opacity="0.2"><rect x="919.10" y="232.1" width="0.9" height="24.9" fill-opacity="0.3"/><rect x="922.00" y="240.0" width="0.9" height="17.0" fill-opacity="0.3"/><rect x="925.10" y="241.3" width="0.9" height="15.7" fill-opacity="0.3"/><rect x="928.20" y="236.3" width="0.9" height="20.7" fill-opacity="0.3"/><rect x="931.20" y="233.3" width="0.9" height="23.7" fill-opacity="0.3"/><rect x="934.10" y="232.5" width="0.9" height="24.5" fill-opacity="0.3"/><rect x="937.20" y="234.2" width="0.9" height="22.8" fill-opacity="0.3"/><rect x="940.20" y="235.0" width="0.9" height="22.0" fill-opacity="0.3"/><rect x="943.40" y="230.8" width="0.9" height="26.2" fill-opacity="0.3"/><rect x="918.50" y="350" width="1" height="24" fill-opacity="0.25"/><rect x="921.40" y="350" width="1" height="24" fill-opacity="0.25"/><rect x="924.50" y="350" width="1" height="24" fill-opacity="0.25"/><rect x="927.60" y="350" width="1" height="24" fill-opacity="0.25"/><rect x="930.60" y="350" width="1" height="24" fill-opacity="0.25"/><rect x="933.50" y="350" width="1" height="24" fill-opacity="0.25"/><rect x="936.60" y="350" width="1" height="24" fill-opacity="0.25"/><rect x="939.60" y="350" width="1" height="24" fill-opacity="0.25"/><rect x="942.80" y="350" width="1" height="24" fill-opacity="0.25"/><polygon points="917.5,257.0 944.8,257.0 944.8,368.3 942.8,370.0 939.5,373.3 936.2,372.5 932.8,370.0 929.5,371.7 927.0,375.8 924.5,378.3 922.0,377.5 920.3,370.8 918.5,362.0 917.5,358.0"/></g>
<g fill="#ff0000"><circle cx="930.4" cy="331.3" r="2.75"/><circle cx="929.3" cy="329.3" r="2.75"/><circle cx="926.4" cy="334.6" r="2.75"/><circle cx="923.5" cy="342.2" r="2.75"/><circle cx="918.8" cy="344.5" r="2.75"/><circle cx="924.7" cy="347.4" r="2.75"/><circle cx="927" cy="343.3" r="2.75"/><circle cx="921.2" cy="345" r="2.75"/></g>
<rect x="79.5" y="15.5" width="906" height="527" fill="none" stroke="#000" stroke-width="1.1"/>
<g stroke="#000" stroke-width="1.1"><line x1="74.2" x2="79.5" y1="518.50" y2="518.50"/><line x1="74.2" x2="79.5" y1="454.50" y2="454.50"/><line x1="74.2" x2="79.5" y1="389.50" y2="389.50"/><line x1="74.2" x2="79.5" y1="325.50" y2="325.50"/><line x1="74.2" x2="79.5" y1="261.50" y2="261.50"/><line x1="74.2" x2="79.5" y1="196.50" y2="196.50"/><line x1="74.2" x2="79.5" y1="132.50" y2="132.50"/><line x1="74.2" x2="79.5" y1="68.50" y2="68.50"/><line x1="136.5" x2="136.5" y1="542" y2="547.4"/><line x1="294.5" x2="294.5" y1="542" y2="547.4"/><line x1="452.5" x2="452.5" y1="542" y2="547.4"/><line x1="610.5" x2="610.5" y1="542" y2="547.4"/><line x1="769.5" x2="769.5" y1="542" y2="547.4"/><line x1="927.5" x2="927.5" y1="542" y2="547.4"/></g>
<g font-family="Liberation Sans, sans-serif" font-size="14" fill="#000" stroke="#000" stroke-width="0.2"><text x="70.2" y="522.8" text-anchor="end" textLength="8.0" lengthAdjust="spacing">0</text><text x="67.8" y="458.6" text-anchor="end" textLength="24.7" lengthAdjust="spacing">500</text><text x="68.7" y="394.65" text-anchor="end" textLength="33.6" lengthAdjust="spacing">1000</text><text x="68.7" y="329.6" text-anchor="end" textLength="33.6" lengthAdjust="spacing">1500</text><text x="69.6" y="265.6" text-anchor="end" textLength="33.6" lengthAdjust="spacing">2000</text><text x="69.6" y="201.6" text-anchor="end" textLength="33.6" lengthAdjust="spacing">2500</text><text x="68.7" y="137.6" text-anchor="end" textLength="33.6" lengthAdjust="spacing">3000</text><text x="68.6" y="72.6" text-anchor="end" textLength="33.6" lengthAdjust="spacing">3500</text><text x="135.5" y="562" text-anchor="middle" textLength="33.8" lengthAdjust="spacing">2021</text><text x="293.5" y="562" text-anchor="middle" textLength="33.8" lengthAdjust="spacing">2022</text><text x="451.5" y="562" text-anchor="middle" textLength="33.8" lengthAdjust="spacing">2023</text><text x="609.5" y="562" text-anchor="middle" textLength="33.8" lengthAdjust="spacing">2024</text><text x="768.5" y="562" text-anchor="middle" textLength="33.8" lengthAdjust="spacing">2025</text><text x="926.5" y="562" text-anchor="middle" textLength="33.8" lengthAdjust="spacing">2026</text><text x="532.4" y="582" text-anchor="middle">ds</text><text transform="translate(24.9,278.6) rotate(-90)" text-anchor="middle" font-size="15">y</text></g>
</svg>
</body></html>
